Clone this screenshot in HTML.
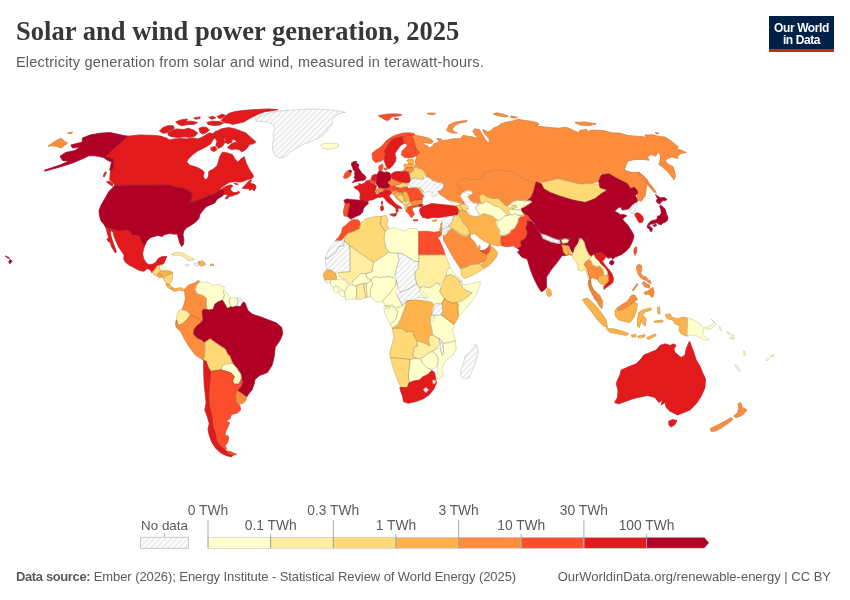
<!DOCTYPE html>
<html lang="en">
<head>
<meta charset="utf-8">
<title>Solar and wind power generation, 2025</title>
<style>
html,body{margin:0;padding:0;background:#fff;}
body{width:850px;height:600px;position:relative;overflow:hidden;font-family:"Liberation Sans",sans-serif;color:#5b5b5b;}
.title{position:absolute;left:16px;top:14px;margin:0;font-family:"Liberation Serif",serif;font-weight:bold;font-size:26.5px;line-height:34px;color:#373737;white-space:nowrap;letter-spacing:0.03px;transform-origin:0 0;}
.subtitle{position:absolute;left:16px;top:52.5px;margin:0;font-size:14.5px;letter-spacing:0.2px;line-height:18px;color:#5b5b5b;white-space:nowrap;transform-origin:0 0;}
.logo{position:absolute;left:769px;top:16px;width:65px;height:36px;background:#002147;border-bottom:0;color:#fff;font-weight:bold;font-size:12px;line-height:12px;text-align:center;letter-spacing:-0.4px;}
.logo span{display:block;padding-top:5.5px;}
.logo i{position:absolute;left:0;right:0;bottom:0;height:3px;background:#ce261e;}
.footer-l{position:absolute;left:16px;top:569px;font-size:13px;letter-spacing:-0.08px;line-height:16px;color:#5b5b5b;white-space:nowrap;transform-origin:0 0;}
.footer-l b{color:#5b5b5b;letter-spacing:-0.38px;}
.footer-r{position:absolute;right:19px;top:569px;font-size:13px;line-height:16px;color:#5b5b5b;white-space:nowrap;transform-origin:100% 0;}
svg{position:absolute;left:0;top:0;}
svg text{font-family:"Liberation Sans",sans-serif;}
</style>
</head>
<body>
<h1 class="title">Solar and wind power generation, 2025</h1>
<p class="subtitle">Electricity generation from solar and wind, measured in terawatt-hours.</p>
<div class="logo"><span>Our World<br>in Data</span><i></i></div>
<svg width="850" height="600" viewBox="0 0 850 600">
<defs>
<pattern id="hatch" patternUnits="userSpaceOnUse" width="4" height="4" patternTransform="rotate(45)">
<rect width="4" height="4" fill="#ffffff"/><line x1="2" y1="-1" x2="2" y2="5" stroke="#cccccc" stroke-width="0.75"/>
</pattern>
<pattern id="hatchL" patternUnits="userSpaceOnUse" width="4" height="4" patternTransform="rotate(45)">
<rect width="4" height="4" fill="#ffffff"/><line x1="2" y1="-1" x2="2" y2="5" stroke="#cccccc" stroke-width="0.75"/>
</pattern>
</defs>
<defs>
<path id="p0" d="M114.7,184.9L112.0,182.1L109.7,179.4L110.1,174.8L110.6,170.2L111.2,170.4L113.8,167.5L112.9,158.8L104.7,156.9L127.5,136.2L140.0,135.0L155.0,135.4L160.2,136.1L166.6,138.0L169.2,139.9L174.4,138.9L180.9,138.4L187.4,138.9L192.5,138.0L197.7,138.9L201.6,137.4L206.1,134.8L209.4,132.8L213.2,134.1L214.5,138.0L212.6,140.6L210.6,143.8L206.8,146.4L202.9,148.4L197.7,150.9L192.5,154.8L188.0,159.4L186.7,161.9L189.9,165.2L196.4,167.1L201.6,169.7L204.2,172.3L203.1,176.2L204.8,179.4L207.4,178.8L208.7,174.9L208.7,171.6L213.2,169.1L217.1,165.8L218.4,161.9L219.7,156.8L222.3,152.2L227.5,152.9L232.6,154.8L235.2,159.4L237.8,161.9L241.1,158.7L244.3,156.8L246.2,163.2L249.5,169.7L253.4,175.5L253.2,177.1L251.5,178.8L247.9,179.4L245.0,180.6L242.1,181.8L238.5,182.1L234.4,181.8L230.3,182.1L226.8,183.8L222.1,187.1L219.1,189.7L220.9,190.3L221.8,189.4L218.6,191.4L213.4,194.6L208.2,195.9L204.4,197.8L199.2,200.0L194.0,201.7L188.6,203.4L191.4,199.8L192.1,193.9L187.5,190.1L181.1,187.9L172.6,186.6L171.4,185.3L140.0,185.6L114.7,184.9Z"/>
<path id="p1" d="M82.5,138.0L90.0,135.0L100.0,133.2L110.0,132.5L118.8,134.5L127.5,136.2L104.7,156.9L112.9,158.8L113.8,167.5L111.2,170.4L109.7,170.0L110.6,166.6L111.5,162.0L106.5,159.7L104.2,157.9L103.8,157.5L95.0,155.8L88.8,155.8L82.5,158.8L72.5,163.0L60.0,167.0L44.5,171.2L45.0,170.0L60.0,165.0L68.8,161.2L62.5,160.5L60.0,156.2L65.5,152.5L75.0,150.5L80.0,147.0L72.5,148.0L70.8,145.0L77.5,143.2L82.0,142.5Z"/>
<path id="p2" d="M48.0,146.2L53.8,142.0L60.8,138.0L64.5,141.2L67.5,143.0L61.2,148.0L56.2,146.2L51.2,145.8Z"/>
<path id="p3" d="M67.5,133.0L72.5,132.0L71.2,133.8Z"/>
<path id="p4" d="M114.5,185.4L171.4,185.3L172.6,186.6L181.1,187.9L187.5,190.1L192.1,193.9L191.4,199.8L188.6,203.4L194.0,201.7L199.2,200.0L204.4,197.8L208.2,195.9L213.4,194.6L218.6,191.4L221.8,189.4L223.8,190.1L224.4,193.9L222.5,195.9L217.3,199.1L214.7,203.0L210.2,204.9L206.9,206.2L204.4,208.8L201.1,212.7L199.8,214.6L198.9,218.5L195.9,221.8L191.4,225.0L186.9,227.6L183.9,230.8L183.0,234.7L183.9,239.9L183.4,244.4L181.7,246.4L179.5,242.5L178.2,237.3L177.2,234.1L173.3,234.1L169.4,233.4L164.2,234.7L162.3,236.6L157.8,235.4L150.2,237.8L146.8,240.9L144.8,245.4L142.9,244.1L140.9,240.9L139.6,236.4L136.4,235.1L132.5,235.7L130.6,233.1L128.9,230.5L125.4,230.3L119.6,231.2L113.1,229.5L110.5,228.6L106.0,227.9L104.1,224.6L100.9,220.8L99.4,215.2L99.0,210.5L101.3,204.8L105.1,198.2L108.8,191.6L112.6,187.9Z"/>
<path id="p5" d="M210.5,264.1L213.7,264.1L213.7,265.6L210.5,265.6Z"/>
<path id="p6" d="M255.1,118.8L260.7,116.0L270.1,112.8L281.4,110.9L296.5,109.8L311.5,109.0L324.7,109.4L334.1,110.4L345.4,112.2L337.9,114.1L333.2,118.8L332.2,124.5L328.5,128.2L325.6,132.9L320.9,136.7L313.4,140.5L304.0,144.2L296.5,148.0L290.8,151.8L285.2,156.5L280.5,158.0L275.8,156.1L272.9,150.8L272.4,144.2L273.9,138.6L272.9,133.9L274.8,129.2L272.9,124.5L268.2,122.2L260.7,121.6L256.0,121.1Z"/>
<path id="p7" d="M320.9,144.8L324.7,143.3L330.4,143.7L336.0,142.9L338.8,144.8L337.9,147.1L333.2,148.6L327.5,149.3L322.8,148.6L321.3,146.7Z"/>
<path id="p8" d="M8.8,261.2L10.6,259.6L12.0,261.2L10.8,262.9L9.4,263.5Z"/>
<path id="p9" d="M5.3,256.1L6.5,256.4L9.4,257.9L9.6,258.6L7.1,257.6Z"/>
<path id="p10" d="M217.1,130.9L222.3,128.6L228.8,127.6L235.2,128.9L240.4,130.9L245.6,132.8L250.8,137.4L255.9,141.9L253.4,143.8L249.5,144.5L247.5,147.7L244.9,150.3L241.7,151.8L239.1,149.6L241.1,146.4L238.5,143.8L235.9,140.6L232.6,139.3L231.4,142.5L227.5,143.8L224.9,141.9L225.5,138.9L222.3,137.4L219.1,134.5Z"/>
<path id="p11" d="M227.5,147.7L231.4,143.8L235.9,141.9L240.4,145.1L241.1,147.7L239.1,149.6L235.2,149.0L231.4,149.6Z"/>
<path id="p12" d="M211.9,134.8L215.8,130.9L219.7,132.8L223.6,138.0L224.9,142.5L222.3,146.4L218.4,148.4L215.8,145.1L217.1,141.2L215.2,138.6L213.9,136.7Z"/>
<path id="p13" d="M210.6,147.7L215.2,146.4L217.1,149.6L213.9,151.6L211.3,150.3Z"/>
<path id="p14" d="M167.9,132.8L171.8,130.2L177.0,128.9L183.5,129.6L188.6,128.3L193.8,130.2L197.7,132.8L195.1,136.1L189.9,137.4L184.8,136.7L178.3,137.4L171.8,136.7L168.6,135.4Z"/>
<path id="p15" d="M159.5,130.9L162.8,127.6L167.9,125.7L173.1,125.7L174.4,128.3L170.5,130.2L166.6,132.8L162.8,133.2Z"/>
<path id="p16" d="M175.7,121.8L180.9,119.9L187.4,119.0L186.1,121.2L191.2,121.2L197.7,122.5L193.8,124.4L187.4,124.4L182.2,125.7L178.3,124.4Z"/>
<path id="p17" d="M193.8,117.9L200.3,116.9L199.6,118.6L195.1,119.2Z"/>
<path id="p18" d="M199.0,128.3L202.9,127.0L206.8,127.6L209.4,130.2L206.1,132.8L202.2,134.1L199.6,131.5Z"/>
<path id="p19" d="M206.8,122.5L211.9,121.2L219.7,121.6L223.6,123.1L219.7,125.1L213.2,125.4L208.1,124.4Z"/>
<path id="p20" d="M208.7,117.3L213.2,116.4L215.8,117.9L211.9,119.2Z"/>
<path id="p21" d="M221.0,120.5L224.9,116.6L228.8,113.4L235.2,111.5L245.6,110.2L255.9,109.5L268.9,108.9L277.9,109.7L271.5,110.8L265.0,111.7L258.5,114.1L253.4,116.6L248.2,119.2L244.3,121.8L239.1,123.1L232.6,124.4L228.8,123.1L225.5,123.1Z"/>
<path id="p22" d="M217.1,116.6L222.3,114.1L225.5,115.4L222.3,117.9L219.1,118.6Z"/>
<path id="p23" d="M103.3,176.2L104.7,172.5L106.5,172.1L105.1,175.3L104.2,177.1Z"/>
<path id="p24" d="M106.5,181.7L109.7,181.2L112.9,184.0L112.4,186.2L109.7,184.4Z"/>
<path id="p25" d="M219.1,189.7L220.3,190.3L222.6,188.2L225.6,186.5L229.1,185.2L232.1,185.0L232.6,185.9L231.2,187.4L230.6,189.4L231.8,191.5L233.8,192.6L236.2,192.6L237.9,191.8L238.8,190.9L239.4,193.2L237.4,194.1L234.4,195.0L232.1,195.9L229.4,196.5L227.6,198.2L225.9,199.1L225.3,198.2L226.8,196.5L228.8,195.0L226.8,195.0L224.4,194.1L224.1,192.4L223.8,190.0L220.9,190.3Z"/>
<path id="p26" d="M234.1,183.4L236.2,183.6L238.2,184.4L237.6,184.7L235.6,184.3Z"/>
<path id="p27" d="M242.4,188.2L243.8,186.5L246.2,184.1L248.5,181.5L250.9,179.7L251.5,180.6L250.3,182.6L251.8,183.8L254.1,184.1L255.6,185.6L255.9,187.6L255.0,189.4L254.1,190.9L253.2,190.3L252.6,188.8L250.9,189.7L249.4,190.6L249.7,189.1L247.9,188.5L245.0,188.7Z"/>
<path id="p28" d="M106.0,227.9L110.5,228.6L113.1,229.5L119.6,231.2L125.4,230.3L128.9,230.5L130.6,233.1L132.5,235.7L136.4,235.1L139.6,236.4L140.9,240.9L142.9,244.1L144.8,245.4L143.5,249.3L142.6,253.8L143.5,258.4L145.7,262.2L148.7,264.8L152.6,264.2L155.8,262.2L158.4,258.4L161.6,256.7L166.8,256.4L165.5,259.6L163.6,263.5L161.6,264.8L157.1,265.5L155.8,268.1L153.9,270.6L151.9,272.6L150.0,269.4L146.8,268.7L144.2,271.3L139.6,270.6L133.8,267.4L128.6,264.8L125.4,262.2L123.7,259.0L124.1,255.1L121.5,251.2L118.9,247.4L116.4,242.2L114.4,237.6L113.1,232.5L111.2,230.5L110.3,232.5L111.2,236.4L112.5,240.9L114.4,246.1L116.4,251.9L115.1,252.8L113.1,249.3L111.2,246.1L110.5,242.8L107.9,240.9L106.9,239.6L108.6,237.6L107.3,233.1Z"/>
<path id="p29" d="M152.6,271.9L153.9,270.6L155.8,268.1L157.1,265.7L159.7,265.7L159.4,269.4L161.0,270.6L158.4,273.2L157.1,275.8L153.9,274.8Z"/>
<path id="p30" d="M159.7,265.7L161.6,264.8L162.6,265.5L161.6,269.4L160.4,270.0L159.4,269.4Z"/>
<path id="p31" d="M157.1,275.8L158.4,273.9L161.6,275.2L162.3,277.1L159.1,277.8Z"/>
<path id="p32" d="M158.4,273.5L161.0,270.9L165.5,270.6L170.7,271.3L172.6,272.6L169.4,274.5L165.5,275.8L163.6,278.4L162.3,277.1L161.6,275.2Z"/>
<path id="p33" d="M171.4,254.5L175.2,252.5L179.8,252.5L184.3,253.8L188.2,256.4L192.1,258.4L194.7,259.6L191.4,260.6L187.5,260.3L186.9,258.4L183.0,256.4L179.1,255.1L174.6,255.4Z"/>
<path id="p34" d="M184.9,264.8L188.2,264.2L189.5,265.5L186.2,266.4Z"/>
<path id="p35" d="M194.0,263.5L197.2,262.9L198.5,261.6L199.2,264.8L198.5,265.5L194.7,265.7Z"/>
<path id="p36" d="M198.5,261.6L202.4,260.9L205.0,262.9L205.0,264.8L201.1,266.1L199.2,264.8Z"/>
<path id="p37" d="M184.8,292.6L184.3,289.3L188.6,285.1L194.2,283.2L198.6,280.4L199.9,281.7L196.7,285.1L195.2,289.8L197.1,293.6L203.6,295.5L206.5,298.3L206.5,305.8L207.4,309.6L203.6,309.2L202.3,311.5L203.1,319.9L201.2,322.8L199.9,319.0L195.2,317.1L190.5,314.9L186.7,311.1L182.0,309.6L183.9,304.9L185.4,299.2Z"/>
<path id="p38" d="M199.9,281.7L203.6,282.9L206.5,281.7L212.1,285.1L219.6,284.7L224.4,287.0L223.4,291.7L224.4,295.5L222.5,300.2L217.8,302.1L214.9,304.3L213.1,309.6L208.4,310.0L207.4,309.6L206.5,305.8L206.5,298.3L203.6,295.5L197.1,293.6L195.2,289.8L196.7,285.1Z"/>
<path id="p39" d="M224.4,290.8L227.2,292.6L230.0,297.4L229.1,302.1L230.9,306.8L227.2,308.6L225.3,304.9L222.5,300.2L224.4,295.5L223.4,291.7Z"/>
<path id="p40" d="M230.0,297.9L237.0,297.9L238.1,302.1L236.6,306.2L232.8,307.3L230.9,306.8L229.1,302.1Z"/>
<path id="p41" d="M237.0,297.9L241.3,298.7L243.2,302.1L240.4,306.8L236.6,306.2L238.1,302.1Z"/>
<path id="p42" d="M182.0,309.6L186.7,311.1L190.5,314.9L186.7,319.9L182.9,323.7L178.2,325.6L176.4,319.9L177.3,313.4L179.2,310.5Z"/>
<path id="p43" d="M176.4,319.9L178.2,325.6L182.9,323.7L186.7,319.9L190.5,314.9L195.2,317.1L199.9,319.0L201.2,322.8L197.1,325.6L194.2,329.4L193.7,334.1L197.1,337.8L201.8,339.7L204.6,342.5L205.0,349.1L204.6,354.8L203.6,360.4L200.8,358.5L195.2,354.8L189.5,347.2L184.8,339.7L181.1,332.2L176.4,327.5L175.4,323.7Z"/>
<path id="p44" d="M203.1,319.9L202.3,311.5L203.6,309.2L208.4,310.0L213.1,309.6L214.9,304.3L217.8,302.1L222.5,300.2L225.3,304.9L227.2,308.6L230.9,306.8L232.8,307.3L236.6,306.2L240.4,306.8L243.2,302.1L245.1,303.0L247.9,310.5L252.6,314.3L261.1,317.1L268.6,319.9L276.1,322.8L281.8,327.5L282.7,334.1L279.9,340.6L275.2,347.2L274.2,356.6L272.4,364.2L271.1,366.9L267.3,372.6L259.8,375.4L255.1,379.2L254.1,383.9L252.2,389.5L248.5,394.2L246.6,397.1L242.8,394.2L237.2,390.5L240.9,386.7L242.8,381.1L241.3,379.2L240.9,374.5L237.2,368.8L232.5,363.2L229.6,355.6L228.1,354.8L225.3,349.1L219.6,345.4L214.0,341.6L210.2,338.8L204.6,342.5L201.8,339.7L197.1,337.8L193.7,334.1L194.2,329.4L197.1,325.6L201.2,322.8Z"/>
<path id="p45" d="M204.6,342.5L210.2,338.8L214.0,341.6L219.6,345.4L225.3,349.1L228.1,354.8L229.6,355.6L232.5,363.2L229.6,363.6L224.9,364.1L222.1,366.0L221.2,369.8L214.6,370.7L210.8,371.6L208.0,366.9L206.1,361.3L203.7,360.4L204.6,354.8L205.0,349.1Z"/>
<path id="p46" d="M222.1,366.0L224.9,364.1L229.6,363.6L232.5,363.2L237.2,368.8L240.9,374.5L241.3,379.2L239.1,383.9L234.4,384.3L232.5,381.1L234.4,376.4L230.6,372.6L224.0,370.7L221.2,369.8Z"/>
<path id="p47" d="M210.8,371.6L214.6,370.7L221.2,369.8L224.0,370.7L230.6,372.6L234.4,376.4L232.5,381.1L234.4,384.3L239.1,383.9L241.3,379.2L242.8,381.1L240.9,386.7L237.2,390.5L235.7,395.2L236.2,401.8L240.0,405.5L240.6,410.2L237.2,413.1L231.5,414.4L230.0,418.7L225.9,421.2L229.6,422.5L227.8,427.2L225.9,430.9L224.9,434.7L228.7,436.6L227.8,442.2L224.9,446.0L226.8,448.8L224.9,449.8L220.2,446.0L216.5,441.3L215.5,434.7L212.7,425.3L211.8,415.9L209.3,406.5L208.6,397.1L209.3,387.6L209.9,378.2Z"/>
<path id="p48" d="M225.9,450.7L230.6,451.6L236.8,454.5L232.5,455.4L227.8,453.5Z"/>
<path id="p49" d="M203.7,360.4L206.1,361.3L208.0,366.9L210.8,371.6L209.9,378.2L209.3,387.6L208.6,397.1L209.3,406.5L211.8,415.9L212.7,425.3L215.5,434.7L216.5,441.3L220.2,446.0L224.9,449.8L225.9,450.7L227.8,453.5L232.5,455.4L231.5,456.9L225.9,455.4L220.2,452.6L215.5,447.9L211.8,442.2L209.3,435.6L208.0,429.1L209.3,423.4L207.1,415.9L204.8,410.2L206.1,402.7L205.2,393.3L204.2,383.9L203.7,372.6Z"/>
<path id="p50" d="M237.2,390.5L242.8,394.2L246.6,397.1L245.6,400.8L242.8,403.6L239.1,403.6L236.2,401.8L235.7,395.2Z"/>
<path id="p51" d="M163.6,278.4L165.5,275.8L169.4,274.5L172.6,272.6L172.6,277.1L171.4,282.3L169.4,284.2L166.2,283.6L164.9,281.0Z"/>
<path id="p52" d="M166.2,283.8L169.4,284.5L172.0,287.5L171.4,289.4L168.8,288.1L166.4,285.9Z"/>
<path id="p53" d="M171.4,289.4L172.3,287.5L175.2,288.8L178.5,288.1L181.7,287.7L184.3,290.1L183.0,291.6L180.4,290.1L177.2,290.7L174.6,291.6Z"/>
<path id="p54" d="M414.4,134.8L416.8,135.5L421.5,136.4L426.3,137.5L431.0,139.3L433.4,141.7L431.0,143.5L426.3,142.9L422.7,142.3L423.9,144.6L427.5,145.8L429.2,148.2L432.2,146.4L434.0,143.5L438.1,142.6L439.1,140.5L436.9,138.7L440.5,138.7L442.8,140.5L447.6,139.9L453.5,138.7L460.0,138.7L463.1,135.4L468.0,136.2L472.9,137.1L478.7,138.7L475.4,135.4L472.9,131.3L474.6,128.8L479.5,129.6L481.2,132.9L483.7,137.1L486.1,140.4L487.8,142.8L489.4,142.0L489.1,138.7L486.1,135.4L484.1,132.9L482.8,129.6L485.3,130.5L487.8,132.1L491.1,130.5L493.5,128.0L497.7,126.4L500.9,123.9L505.9,122.2L512.5,121.1L517.4,119.4L520.7,119.8L525.7,120.6L532.2,121.4L538.0,123.1L538.8,124.7L535.5,126.0L542.1,126.7L552.0,127.7L558.6,128.3L565.2,127.2L570.1,128.8L575.1,131.3L580.0,132.9L579.9,132.2L579.1,130.6L586.5,129.4L588.1,131.4L591.4,130.1L602.9,130.6L612.8,133.1L619.4,133.1L627.7,135.5L639.2,136.4L647.4,137.2L644.9,135.0L652.4,134.7L658.9,136.4L665.5,137.2L670.5,140.5L675.4,144.6L678.7,147.1L675.4,148.2L682.0,150.4L686.1,152.5L680.4,153.7L677.1,156.9L677.9,158.6L672.1,156.9L667.2,158.6L665.5,161.1L668.8,164.4L672.9,166.8L674.6,170.9L675.4,175.9L674.1,180.0L670.5,175.1L667.2,170.9L662.2,166.8L658.9,164.4L660.3,159.4L660.6,155.3L658.1,152.0L655.7,156.1L650.7,154.5L647.4,156.9L649.1,160.2L642.5,159.4L635.9,159.4L627.7,161.1L626.0,165.2L624.4,170.1L631.8,172.6L639.2,172.3L643.3,175.9L647.4,180.0L646.2,188.8L645.0,196.2L641.2,201.2L637.0,200.0L637.5,195.0L636.2,188.8L630.0,187.5L625.0,182.5L615.0,177.5L605.0,174.5L600.0,173.8L600.0,175.0L598.8,181.2L592.5,183.0L580.0,183.8L570.0,181.2L557.5,178.2L546.2,181.2L537.5,183.0L533.8,190.0L532.0,201.3L529.9,200.8L523.5,200.8L517.7,200.2L512.9,201.8L510.8,203.4L507.6,206.1L504.5,205.0L500.8,200.8L498.1,198.1L492.8,198.6L487.5,197.1L482.8,193.9L479.1,196.0L480.6,203.4L478.5,203.9L470.6,202.4L463.2,201.5L463.1,201.4L464.5,204.7L462.1,203.8L457.4,202.8L452.7,201.4L448.9,200.5L445.2,197.6L441.4,195.3L439.5,193.9L439.1,192.9L437.6,191.5L440.9,190.1L442.8,188.2L443.8,184.9L441.9,183.1L437.6,182.1L432.0,180.2L429.2,177.4L426.4,176.9L426.4,174.6L425.4,172.7L423.1,170.4L420.2,168.5L417.4,168.0L416.7,166.0L415.5,163.3L415.5,160.1L416.7,157.1L416.7,155.3L419.6,151.8L419.2,152.3L416.8,150.0L415.0,145.8L413.8,141.7L412.7,137.5L410.9,135.5Z"/>
<path id="p55" d="M575.0,122.5L585.0,122.0L596.2,123.8L590.0,125.5L580.0,125.0Z"/>
<path id="p56" d="M540.0,186.2L536.5,183.0L546.2,181.5L557.5,178.8L570.0,181.8L580.0,184.2L592.5,183.5L600.0,185.0L607.5,190.0L600.0,193.8L595.0,198.8L585.0,203.0L572.5,201.2L560.0,198.0L550.0,193.8L543.8,191.2Z"/>
<path id="p57" d="M638.8,172.5L643.8,176.2L648.8,182.5L653.8,188.8L656.2,192.5L653.8,192.0L648.8,186.2L643.8,180.0L640.0,175.5Z"/>
<path id="p58" d="M655.0,132.5L658.8,133.0L657.0,134.2Z"/>
<path id="p59" d="M471.2,195.0L463.1,192.0L462.6,190.1L458.8,188.2L457.4,184.0L461.2,179.3L465.9,178.4L471.5,179.8L481.2,178.8L483.8,172.5L496.2,169.5L512.5,172.0L525.0,180.0L537.5,183.0"/>
<path id="p60" d="M655.6,194.6L658.0,196.5L660.8,197.9L664.1,197.4L666.9,199.3L665.5,200.7L663.2,200.2L661.3,202.1L659.4,204.0L657.1,202.6L656.1,200.2L658.0,198.8L656.6,196.9Z"/>
<path id="p61" d="M660.4,204.9L662.7,206.8L665.1,209.2L666.5,213.9L667.9,217.6L667.4,220.5L665.5,221.9L663.2,222.8L661.3,224.7L658.9,224.2L657.1,222.8L655.2,223.3L652.8,223.8L650.5,224.2L648.6,225.6L647.2,226.6L648.1,224.2L650.0,221.9L652.4,220.5L655.2,220.0L657.1,219.1L657.5,216.2L659.9,215.8L661.3,212.9L660.8,209.2L659.9,206.8Z"/>
<path id="p62" d="M647.2,226.6L649.5,226.1L650.9,227.1L652.4,228.9L651.4,231.8L650.0,230.8L649.1,228.5L647.5,228.0Z"/>
<path id="p63" d="M652.8,225.2L656.1,224.2L656.6,225.6L654.2,226.6Z"/>
<path id="p64" d="M628.8,208.7L631.6,205.4L634.5,203.1L636.8,202.1L637.8,204.5L636.4,207.3L635.4,210.1L634.0,212.9L631.6,213.9L630.2,212.0Z"/>
<path id="p65" d="M634.7,214.1L636.8,212.8L639.6,213.4L642.5,216.2L643.4,219.5L642.5,221.9L639.6,222.8L638.2,221.4L636.8,218.6L635.4,216.2Z"/>
<path id="p66" d="M446.6,130.5L449.1,124.7L454.8,122.2L461.4,121.1L467.2,120.6L466.4,121.7L459.8,123.1L454.8,125.5L452.4,128.8L454.0,132.1L457.3,132.9L451.5,132.9Z"/>
<path id="p67" d="M493.5,114.0L496.8,112.8L502.6,114.0L508.4,116.1L505.9,116.8L500.1,116.1L496.0,115.2Z"/>
<path id="p68" d="M510.5,116.1L514.1,116.5L517.4,117.3L514.1,118.1L510.8,117.3Z"/>
<path id="p69" d="M343.5,177.8L344.5,174.3L346.8,171.3L349.2,170.4L351.0,172.5L350.6,175.4L348.0,177.5L345.7,178.4Z"/>
<path id="p70" d="M349.0,170.4L351.0,170.1L351.6,171.9L350.1,172.5Z"/>
<path id="p71" d="M351.6,163.0L353.9,161.6L356.9,161.6L356.3,163.6L358.7,164.2L358.1,167.8L359.9,170.1L361.6,173.1L364.6,175.4L366.0,177.5L365.2,179.6L362.8,180.5L358.7,181.0L355.1,181.7L352.2,182.5L354.5,180.2L355.7,178.4L353.9,177.8L355.1,175.4L354.5,173.1L355.1,171.3L353.3,170.1L352.8,167.8L351.6,165.4Z"/>
<path id="p72" d="M353.9,187.3L356.3,186.1L359.3,185.5L358.7,183.7L361.6,184.3L364.6,183.1L366.4,180.8L368.7,180.5L370.5,182.5L374.1,184.3L376.4,185.5L375.8,189.1L374.6,191.4L375.8,193.2L377.0,195.0L377.6,197.3L375.2,198.5L372.9,199.7L369.3,200.3L367.5,202.1L364.0,201.5L360.4,200.3L359.9,197.3L360.4,193.8L358.7,190.8L356.3,189.1Z"/>
<path id="p73" d="M381.4,202.1L382.3,200.9L382.7,203.8L381.7,204.7Z"/>
<path id="p74" d="M343.9,200.3L346.8,199.1L352.8,199.7L360.4,200.3L364.0,201.5L367.5,202.1L368.7,203.3L365.8,205.6L363.4,208.6L362.5,212.1L360.4,214.5L356.3,216.3L352.8,218.0L351.0,219.2L349.0,217.5L347.4,216.3L348.0,211.5L349.0,206.8L349.8,203.8L345.1,203.3Z"/>
<path id="p75" d="M345.1,203.3L349.8,203.8L349.0,206.8L348.0,211.5L347.4,216.3L344.2,216.0L343.3,211.5L344.5,206.8Z"/>
<path id="p76" d="M368.7,180.5L370.5,179.6L373.5,180.2L375.2,182.0L375.0,183.7L374.1,184.3L370.5,182.5Z"/>
<path id="p77" d="M371.1,179.3L372.3,175.4L375.8,174.3L376.4,176.6L375.8,179.6L375.2,181.7L373.5,180.2Z"/>
<path id="p78" d="M376.1,175.4L377.6,173.7L379.4,170.8L381.7,171.3L384.0,172.5L386.9,171.9L389.9,173.1L391.0,176.6L390.8,180.1L388.1,182.4L389.9,185.3L389.3,187.7L386.4,188.3L382.9,188.3L378.8,187.7L377.6,185.3L375.9,183.6L376.4,180.1L376.8,177.2Z"/>
<path id="p79" d="M379.1,170.2L378.8,166.7L380.5,164.9L382.6,164.3L383.1,166.7L382.3,169.6L381.1,170.8Z"/>
<path id="p80" d="M384.0,168.4L386.4,167.8L386.9,169.6L385.0,170.2Z"/>
<path id="p81" d="M382.3,188.8L385.9,188.5L388.8,187.9L390.0,185.7L394.2,186.1L397.1,187.3L396.5,189.6L394.2,191.2L390.6,191.4L387.1,190.2L384.1,190.2Z"/>
<path id="p82" d="M375.8,190.2L378.2,188.5L382.3,188.8L384.1,190.2L382.9,192.0L380.0,192.8L377.0,193.2L375.8,192.0Z"/>
<path id="p83" d="M397.1,187.6L399.5,187.9L403.6,187.3L407.2,186.9L408.4,188.5L406.0,190.8L402.5,192.6L398.9,192.8L396.8,191.4L396.5,189.6Z"/>
<path id="p84" d="M391.2,191.7L394.2,191.2L396.5,191.4L395.9,193.2L393.0,194.0L391.6,193.2Z"/>
<path id="p85" d="M393.0,194.0L395.9,193.2L396.8,191.7L399.5,192.8L402.5,192.8L403.0,195.0L399.5,194.7L396.5,195.6L397.7,197.9L400.7,200.9L403.0,203.3L401.3,202.7L397.7,199.7L395.4,197.3L393.9,195.6Z"/>
<path id="p86" d="M396.5,195.6L399.5,194.7L403.0,195.0L403.9,197.3L404.2,200.3L402.5,202.1L400.7,200.9L397.7,197.9Z"/>
<path id="p87" d="M402.5,192.8L406.0,191.2L407.8,193.2L409.0,195.6L410.1,198.5L410.7,201.5L409.0,203.8L406.6,203.3L405.4,200.9L404.2,200.3L403.9,197.3L403.0,195.0Z"/>
<path id="p88" d="M403.0,202.1L404.8,200.7L406.0,202.7L404.8,204.4L403.6,203.8Z"/>
<path id="p89" d="M406.0,202.1L407.8,201.1L409.0,203.3L407.2,204.4Z"/>
<path id="p90" d="M404.2,204.7L406.0,204.2L406.6,206.8L407.2,209.2L405.8,210.4L404.6,208.0Z"/>
<path id="p91" d="M407.2,204.4L409.0,203.8L411.3,204.4L410.7,206.2L407.8,207.0L406.7,206.6Z"/>
<path id="p92" d="M405.8,210.6L407.4,209.2L407.8,207.3L410.7,206.3L413.7,205.6L417.8,205.0L418.4,206.6L415.5,207.0L413.1,207.4L411.9,209.2L413.1,211.5L414.5,214.5L412.5,216.3L411.7,217.7L410.1,216.3L409.0,213.9L407.2,212.5Z"/>
<path id="p93" d="M413.1,219.8L417.8,219.6L417.8,220.8L413.7,221.0Z"/>
<path id="p94" d="M410.7,201.5L413.1,200.3L417.8,199.7L422.0,199.5L422.6,202.1L421.2,203.8L418.4,205.0L413.7,205.6L411.3,204.4Z"/>
<path id="p95" d="M408.4,188.5L411.9,187.9L416.7,187.6L419.6,190.2L421.4,193.8L423.5,195.0L423.2,196.7L422.0,199.5L417.8,199.7L413.1,200.3L410.7,201.5L409.0,195.6L407.8,193.2L406.0,191.2Z"/>
<path id="p96" d="M377.6,197.3L377.0,195.0L380.0,192.8L382.9,192.0L384.1,190.5L387.1,190.5L390.6,191.4L391.6,193.2L390.0,194.4L388.8,196.2L390.6,197.9L393.0,200.9L395.4,203.8L398.3,205.6L401.3,207.4L401.9,208.6L399.5,208.2L397.7,208.0L398.3,210.4L397.1,212.7L395.9,211.5L396.3,209.2L394.2,206.8L391.8,205.0L388.8,203.3L386.5,200.9L384.7,198.5L382.3,196.7L380.0,197.3Z"/>
<path id="p97" d="M390.0,213.9L393.0,214.1L396.5,213.3L395.9,215.7L393.6,216.3L390.6,215.1Z"/>
<path id="p98" d="M380.6,206.6L382.9,205.6L383.5,209.2L382.3,210.9L380.9,210.4Z"/>
<path id="p99" d="M418.4,205.0L421.2,204.0L423.2,204.7L422.3,206.6L419.6,206.8Z"/>
<path id="p100" d="M378.3,115.7L383.7,114.7L389.6,113.9L395.5,113.9L401.7,114.5L400.8,115.7L395.5,116.2L392.0,116.8L389.6,119.2L387.8,120.6L384.9,119.8L381.3,117.4Z"/>
<path id="p101" d="M394.3,118.3L398.5,118.6L397.9,119.8L394.9,119.4Z"/>
<path id="p102" d="M426.9,113.5L431.0,113.0L435.7,113.3L433.4,114.5L429.8,114.5Z"/>
<path id="p103" d="M372.1,153.5L375.4,150.6L380.1,147.6L383.7,144.1L386.6,140.5L390.8,137.5L395.5,135.2L402.6,133.2L408.5,132.8L413.8,133.4L414.4,134.8L410.9,135.5L407.3,135.2L406.2,136.4L402.6,137.0L399.1,137.5L394.3,138.7L391.4,140.5L389.0,144.1L386.6,147.6L384.9,150.6L385.4,155.3L384.3,158.8L381.9,160.6L378.9,161.8L375.4,162.4L373.0,160.0L372.4,156.5Z"/>
<path id="p104" d="M385.4,155.3L384.9,150.6L386.6,147.6L389.0,144.1L391.4,140.5L394.3,138.7L399.1,137.5L402.6,137.0L403.6,140.5L404.0,143.5L400.8,145.2L398.5,148.2L396.4,151.2L394.7,153.8L396.1,157.9L395.3,161.6L392.5,165.7L389.3,168.7L387.5,168.3L386.0,165.4L384.6,161.8L384.3,158.8Z"/>
<path id="p105" d="M402.6,137.0L406.2,136.4L407.3,135.2L410.9,135.5L412.7,137.5L413.8,141.7L415.0,145.8L416.8,150.0L419.2,152.3L416.8,155.3L413.3,157.1L408.5,158.0L403.8,157.1L401.4,154.7L402.0,151.2L405.0,148.2L407.3,145.2L405.6,143.5L404.0,143.5L403.6,140.5Z"/>
<path id="p106" d="M408.9,184.0L410.4,179.8L412.2,178.8L416.9,179.3L422.6,179.3L426.4,176.9L429.2,177.4L432.0,180.2L437.6,182.1L441.9,183.1L443.8,184.9L442.8,188.2L440.9,190.1L437.6,191.5L439.1,192.9L439.5,193.9L436.7,194.4L434.8,196.2L432.5,196.2L431.5,194.4L432.9,192.9L431.1,192.0L427.3,191.5L424.9,192.5L422.6,194.4L423.1,192.0L421.6,189.2L419.3,187.3L416.9,187.8L413.2,187.3L410.4,186.8L409.4,185.4Z"/>
<path id="p107" d="M419.3,187.3L421.6,189.2L423.1,192.0L422.1,192.9L420.7,191.1L418.4,188.2Z"/>
<path id="p108" d="M406.7,160.4L409.2,159.3L413.3,159.3L414.3,162.1L412.5,164.2L409.6,164.2L408.3,162.5Z"/>
<path id="p109" d="M403.8,165.0L405.0,163.8L408.3,164.6L408.8,162.9L409.6,164.2L412.5,164.2L415.0,164.6L416.0,167.1L413.3,167.9L410.0,167.1L406.7,167.5L404.2,167.1Z"/>
<path id="p110" d="M404.2,168.8L406.7,167.7L410.0,167.2L413.3,168.1L413.8,170.4L411.7,172.5L408.8,172.5L406.2,171.7L404.6,170.4Z"/>
<path id="p111" d="M402.5,170.4L404.6,170.4L406.0,171.7L403.3,171.8Z"/>
<path id="p112" d="M409.2,175.0L411.7,172.5L413.8,170.4L413.3,168.1L416.0,167.1L418.3,167.9L421.7,168.8L424.2,171.7L426.2,174.2L424.2,175.4L423.3,178.8L419.2,178.3L415.0,177.9L411.2,178.3L409.6,176.7Z"/>
<path id="p113" d="M391.2,174.2L394.2,172.1L398.3,171.5L402.5,171.8L406.0,171.8L408.8,172.7L409.2,175.0L409.6,176.7L410.4,180.0L408.8,182.5L405.8,183.3L402.5,182.5L399.2,182.1L396.2,180.8L392.5,179.2L391.2,176.7Z"/>
<path id="p114" d="M397.9,185.0L400.0,183.8L402.9,182.9L406.7,183.5L408.3,183.8L407.5,186.2L404.2,186.7L400.8,187.9L398.8,187.5Z"/>
<path id="p115" d="M387.9,182.5L390.4,180.0L392.5,179.3L396.2,180.8L399.2,182.1L402.1,182.7L400.0,183.8L397.9,185.0L395.0,185.4L391.7,185.0L389.6,184.2Z"/>
<path id="p116" d="M521.2,208.8L525.0,202.5L531.2,197.5L533.8,191.2L536.2,182.0L541.2,183.8L543.8,188.8L550.0,192.5L560.0,196.2L572.5,200.0L585.0,202.5L595.0,198.8L601.2,193.8L607.5,190.0L600.0,187.5L598.8,181.2L601.2,175.0L608.8,173.8L617.5,178.8L627.5,183.8L630.2,188.5L634.5,187.5L636.8,189.9L637.8,193.2L635.4,195.5L636.8,198.8L637.3,201.6L634.5,203.1L631.6,205.4L628.8,208.7L625.5,209.6L622.2,210.1L621.3,207.3L618.9,207.3L615.6,210.1L614.7,211.5L618.0,212.9L620.4,214.8L623.2,214.4L626.9,215.8L624.1,217.6L622.7,219.5L625.1,222.4L627.9,225.2L630.2,228.9L632.6,232.7L634.0,236.0L633.5,238.2L631.8,242.9L629.4,247.6L625.9,251.2L621.2,254.7L615.3,257.1L612.4,259.4L611.8,257.3L608.2,258.2L605.9,256.5L603.5,254.1L600.6,252.4L597.6,252.9L594.1,254.1L593.5,254.7L591.2,256.5L589.4,255.3L587.1,251.2L585.3,246.5L584.1,241.8L581.8,238.8L576.2,237.0L570.0,238.8L563.8,238.0L557.5,240.0L547.5,236.2L540.0,232.5L536.2,228.8L535.0,223.8L531.2,220.0L526.2,216.2L522.5,212.5Z"/>
<path id="p117" d="M582.5,299.5L587.5,298.0L595.0,305.0L601.2,312.5L606.2,320.0L607.5,327.5L603.8,326.2L597.5,320.0L591.2,311.2L585.0,303.8Z"/>
<path id="p118" d="M606.2,328.8L613.8,328.8L622.5,331.2L628.8,333.8L626.2,335.5L617.5,333.8L610.0,332.5Z"/>
<path id="p119" d="M631.2,335.0L636.2,334.5L635.5,337.0L632.0,337.0Z"/>
<path id="p120" d="M637.5,336.2L645.0,334.5L644.5,337.0L638.8,338.0Z"/>
<path id="p121" d="M646.2,338.0L655.0,333.8L656.2,335.5L648.8,339.5Z"/>
<path id="p122" d="M616.2,308.8L621.2,305.0L627.5,301.2L631.2,295.5L634.5,295.0L637.5,299.5L633.8,302.0L630.0,305.0L623.8,308.8L618.8,310.5Z"/>
<path id="p123" d="M615.0,310.0L618.8,310.5L623.8,308.8L630.0,305.0L633.8,302.0L637.5,303.8L636.2,311.2L633.8,317.5L630.0,322.5L623.8,321.2L618.8,320.0L615.5,316.2Z"/>
<path id="p124" d="M638.8,312.5L642.5,310.0L651.2,308.0L651.2,310.0L645.0,312.0L642.5,315.0L646.2,318.8L645.0,326.2L642.5,323.8L641.2,320.0L639.5,327.5L637.5,326.2L637.5,318.8Z"/>
<path id="p125" d="M657.5,307.5L659.5,307.0L660.0,313.8L658.0,313.8Z"/>
<path id="p126" d="M653.8,321.2L662.5,320.0L663.0,322.0L655.0,322.5Z"/>
<path id="p127" d="M665.0,315.0L670.0,313.8L672.5,317.5L677.5,318.8L682.5,317.0L687.5,318.0L687.0,336.2L681.2,333.8L678.8,330.0L680.0,326.2L675.0,323.8L672.5,320.0L667.5,318.8Z"/>
<path id="p128" d="M687.5,318.0L693.8,320.0L700.0,323.8L703.8,328.8L702.5,333.8L706.2,338.0L708.8,340.0L703.8,340.0L697.5,336.2L692.5,335.0L687.0,336.2Z"/>
<path id="p129" d="M617.5,380.0L620.0,375.0L621.2,370.0L630.0,366.2L636.2,363.8L641.2,358.8L643.8,355.0L650.0,352.5L656.2,350.0L660.0,345.5L665.0,343.8L670.0,345.5L673.8,343.8L676.2,345.5L673.8,348.8L675.0,352.5L681.2,357.5L685.0,355.0L686.2,348.8L689.5,341.2L691.2,345.5L693.8,352.5L696.2,360.0L700.0,366.2L702.5,372.5L705.5,378.8L705.0,387.5L701.2,396.2L696.2,403.8L690.0,410.0L683.8,412.5L677.5,415.0L670.0,411.2L666.2,407.5L665.0,402.5L661.2,405.0L662.5,400.0L658.8,402.5L655.0,397.5L647.5,395.5L640.0,397.0L632.5,398.8L626.2,401.2L618.8,403.8L614.5,402.5L617.5,397.5L618.0,390.0L616.2,383.8Z"/>
<path id="p130" d="M668.8,421.2L672.5,419.5L677.0,420.5L675.0,424.5L671.2,427.0L668.8,425.0Z"/>
<path id="p131" d="M738.0,403.8L740.5,402.5L742.5,407.5L747.0,410.0L743.8,413.8L740.0,416.2L736.2,417.5L733.8,416.2L737.5,412.5L738.8,407.5Z"/>
<path id="p132" d="M710.0,428.8L717.5,425.0L725.0,421.2L731.2,417.5L732.5,420.0L727.5,423.8L720.0,428.8L715.0,431.2L711.2,431.2Z"/>
<path id="p133" d="M588.8,280.0L591.2,285.0L593.8,290.0L599.5,295.0L602.5,301.2L602.0,308.8L598.8,305.0L595.0,297.5L592.0,292.5L590.0,287.5L588.0,283.8Z"/>
<path id="p134" d="M579.4,239.4L581.8,238.8L584.1,241.8L585.3,246.5L587.1,251.2L589.4,255.3L591.2,256.5L588.8,259.4L585.3,262.4L584.7,265.3L587.1,268.8L588.8,274.7L590.0,279.4L590.8,282.9L589.4,282.9L588.2,278.2L586.5,272.9L585.3,268.8L581.8,271.2L578.2,270.0L577.6,265.3L575.9,261.8L572.9,258.2L572.4,253.5L574.1,250.0L575.9,245.3L577.6,241.8Z"/>
<path id="p135" d="M585.3,262.4L588.8,260.0L591.2,261.2L592.9,265.3L596.5,266.5L600.0,265.9L602.9,269.4L604.1,274.1L601.2,275.3L598.2,276.5L597.6,279.4L595.3,278.8L592.4,277.6L590.6,279.4L590.8,282.9L591.2,287.6L594.1,292.4L597.6,297.1L600.6,300.0L595.3,300.0L593.5,296.5L590.6,291.2L588.8,286.5L589.4,282.9L590.0,279.4L588.8,274.7L587.1,268.8L584.7,265.3Z"/>
<path id="p136" d="M591.2,256.5L593.5,254.7L595.9,258.2L599.4,261.2L601.2,264.1L605.3,267.6L608.0,271.8L608.2,275.3L605.3,275.9L604.1,274.1L602.9,269.4L600.0,265.9L596.5,266.5L592.9,265.3L591.2,261.2L590.0,258.8Z"/>
<path id="p137" d="M594.1,254.1L597.6,252.9L600.6,252.4L603.5,254.1L605.9,256.5L604.1,259.4L602.4,261.2L604.7,264.7L608.2,268.8L611.8,273.5L613.5,278.2L612.9,282.4L609.4,285.3L605.9,287.6L604.1,289.4L603.8,286.5L606.5,283.5L608.8,280.6L608.2,275.3L608.0,271.8L605.3,267.6L601.2,264.1L599.4,261.2L595.9,258.2Z"/>
<path id="p138" d="M597.6,279.4L598.2,276.5L601.2,275.3L605.3,275.9L608.2,275.3L608.8,280.6L606.5,283.5L603.5,284.7L600.6,283.5L598.6,281.8Z"/>
<path id="p139" d="M610.0,261.2L612.4,260.4L614.1,261.8L613.5,264.1L611.2,265.1L609.6,263.5Z"/>
<path id="p140" d="M633.9,250.0L635.3,247.1L636.7,247.1L636.7,251.2L635.3,255.3L634.1,252.9Z"/>
<path id="p141" d="M637.1,265.3L639.4,264.4L641.2,265.3L641.8,269.4L640.6,272.9L642.4,275.9L646.5,277.1L647.6,279.4L650.6,281.2L651.2,283.5L648.8,282.9L646.5,280.6L643.5,279.4L641.2,278.2L638.8,275.3L637.1,271.2L636.5,267.6Z"/>
<path id="p142" d="M642.4,282.4L644.7,281.8L647.1,284.7L646.5,287.6L644.1,286.5L642.9,284.1Z"/>
<path id="p143" d="M647.6,284.1L650.0,285.3L649.4,288.2L647.6,287.6Z"/>
<path id="p144" d="M632.4,290.0L634.7,287.1L637.1,283.5L637.9,284.4L635.3,288.2L632.9,290.9Z"/>
<path id="p145" d="M644.1,292.4L647.6,291.2L650.6,288.8L652.9,287.6L654.1,291.2L653.5,295.9L651.8,297.6L650.0,294.7L647.6,294.1L645.3,294.7Z"/>
<path id="p146" d="M526.3,220.4L531.5,221.3L535.0,224.8L536.8,230.0L541.2,234.4L542.9,237.9L550.8,241.4L558.7,243.2L560.4,239.7L564.8,238.8L569.2,239.7L573.6,237.0L577.9,236.7L578.8,239.7L577.1,244.0L574.4,247.5L572.7,252.8L570.9,250.2L569.2,245.8L565.7,244.9L567.4,249.3L569.2,254.5L565.7,255.4L562.2,255.4L557.8,261.5L550.8,270.3L546.4,277.3L546.4,287.8L543.8,290.4L541.2,291.7L537.7,286.1L534.2,279.1L530.6,270.3L528.0,261.5L527.1,258.9L521.9,257.2L517.5,251.9L520.1,250.2L517.5,248.4L521.0,245.8L520.1,241.4L525.4,237.9L527.1,232.7L525.4,227.4L527.1,223.9Z"/>
<path id="p147" d="M541.2,234.4L545.5,234.9L552.5,237.9L559.5,240.5L560.4,243.2L558.7,243.7L550.8,241.9L542.9,238.4Z"/>
<path id="p148" d="M561.3,240.2L565.7,238.8L568.7,240.2L567.4,242.6L562.7,243.2Z"/>
<path id="p149" d="M561.6,244.9L565.7,245.4L568.8,246.1L569.7,251.0L572.2,254.5L570.9,255.9L569.2,253.7L566.5,255.4L563.4,251.9L562.7,247.5Z"/>
<path id="p150" d="M546.4,290.4L548.2,287.8L550.8,290.4L551.7,294.8L549.0,296.9L546.9,294.8Z"/>
<path id="p151" d="M704.7,327.6L707.6,327.1L711.8,324.7L714.1,322.4L712.4,320.0L711.2,319.4L715.3,322.9L715.3,324.7L712.4,327.6L708.8,329.4L705.9,328.8Z"/>
<path id="p152" d="M718.8,326.5L720.0,326.5L721.8,330.0L720.6,330.6Z"/>
<path id="p153" d="M727.1,331.8L730.6,333.5L730.0,334.7L727.1,332.9Z"/>
<path id="p154" d="M731.8,334.7L733.5,335.3L734.5,338.8L733.3,339.4Z"/>
<path id="p155" d="M730.0,337.3L732.4,338.0L731.8,339.2L729.8,338.5Z"/>
<path id="p156" d="M743.5,351.2L744.7,351.2L745.3,355.3L744.1,355.6Z"/>
<path id="p157" d="M766.2,359.2L767.6,358.0L769.4,358.8L768.2,360.6L766.5,360.6Z"/>
<path id="p158" d="M770.2,356.1L773.8,354.7L773.8,355.6L770.9,357.1Z"/>
<path id="p159" d="M734.5,365.3L735.9,364.7L740.6,370.6L739.4,371.4Z"/>
<path id="p160" d="M419.6,209.2L422.6,206.8L426.1,205.6L430.9,203.8L431.3,203.5L440.7,204.5L450.1,205.4L456.7,206.4L459.2,210.1L457.6,214.8L452.0,215.4L444.5,216.7L438.8,217.6L433.2,217.3L427.5,218.6L421.9,216.7L423.8,217.5L421.4,215.7L420.0,212.7Z"/>
<path id="p161" d="M458.8,210.1L462.4,210.7L466.1,211.1L469.9,215.8L478.4,216.7L484.0,213.9L492.5,216.7L497.2,219.9L497.6,227.1L500.6,230.8L500.6,234.6L502.8,239.3L503.8,244.9L497.2,245.9L490.6,244.0L485.9,242.1L480.2,238.4L474.6,233.6L469.9,234.6L468.9,228.9L464.2,223.3L459.5,217.1Z"/>
<path id="p162" d="M443.5,234.6L446.4,231.8L450.1,228.0L453.9,228.9L460.5,233.6L466.1,235.5L469.9,237.4L474.6,242.1L477.4,247.8L480.2,250.6L486.8,254.4L484.9,260.9L478.4,263.8L470.8,264.7L465.2,267.5L460.5,268.5L456.7,262.8L452.0,255.3L447.3,246.8L443.5,240.2Z"/>
<path id="p163" d="M478.4,245.9L479.9,245.5L480.2,248.7L478.7,249.3Z"/>
<path id="p164" d="M480.2,250.6L484.9,250.0L488.7,246.8L489.6,244.0L490.6,248.7L488.7,253.4L486.8,254.4Z"/>
<path id="p165" d="M489.6,244.9L494.4,248.7L497.6,252.5L496.2,257.2L492.5,261.9L488.7,265.6L484.0,268.5L481.2,264.7L484.9,260.9L486.8,254.4L488.7,253.4L490.6,248.7Z"/>
<path id="p166" d="M460.5,268.5L465.2,267.5L470.8,264.7L478.4,263.8L481.2,264.7L484.0,268.5L478.4,272.2L470.8,276.0L464.2,278.8L461.4,275.1Z"/>
<path id="p167" d="M432.2,220.5L436.9,219.5L436.0,221.4L433.2,221.8Z"/>
<path id="p168" d="M449.2,200.4L452.5,201.2L457.5,202.5L461.7,204.2L460.8,205.4L457.5,205.0L455.0,205.4L451.7,203.3Z"/>
<path id="p169" d="M456.2,205.8L459.2,205.4L461.2,207.5L462.9,210.4L460.8,210.8L458.8,209.6L457.5,207.1Z"/>
<path id="p170" d="M459.6,205.0L461.7,204.2L465.0,203.8L467.5,205.8L469.2,207.5L466.7,208.8L466.7,211.2L464.6,210.8L462.9,210.4L461.2,207.5Z"/>
<path id="p171" d="M448.8,225.8L452.5,220.8L453.8,216.2L458.8,215.4L461.7,218.3L462.9,222.5L467.5,227.5L469.2,231.7L469.6,235.0L467.1,236.7L462.1,235.8L456.7,231.7L451.7,228.8Z"/>
<path id="p172" d="M441.2,220.8L442.5,218.3L446.7,217.1L453.8,216.2L452.5,220.8L448.8,225.8L445.0,228.3L442.5,229.2L441.7,225.0Z"/>
<path id="p173" d="M442.5,229.2L445.0,228.3L448.8,225.8L451.7,228.8L448.3,230.8L446.2,234.2L443.3,235.8L441.2,235.0Z"/>
<path id="p174" d="M439.8,228.3L441.2,227.1L441.7,230.0L441.2,235.0L440.4,234.2L440.0,230.8Z"/>
<path id="p175" d="M440.7,223.8L442.1,222.9L441.8,225.4L440.8,227.1Z"/>
<path id="p176" d="M467.5,235.0L470.0,234.6L470.8,237.1L468.8,237.5Z"/>
<path id="p177" d="M501.4,235.6L505.6,234.6L509.8,232.3L510.9,229.7L514.7,227.6L516.3,224.9L517.9,221.8L518.4,218.1L520.5,216.0L524.5,214.3L528.0,215.7L530.6,220.4L526.3,221.3L527.1,223.9L525.4,227.4L527.1,232.7L525.4,237.9L520.1,241.4L521.0,245.8L517.5,248.4L513.1,245.8L507.0,246.7L501.8,245.8L500.9,242.3Z"/>
<path id="p178" d="M479.1,196.0L482.8,194.1L487.5,197.1L492.8,198.6L498.1,198.1L500.8,200.8L504.5,205.0L507.6,206.4L509.2,208.2L511.9,205.7L515.1,205.3L517.2,206.6L514.5,208.2L511.9,208.7L509.8,209.8L508.2,210.8L509.8,214.5L508.2,215.3L505.5,212.9L502.4,209.8L499.2,207.1L494.9,206.1L491.8,204.5L488.6,202.4L485.4,201.5L482.8,203.9L480.6,203.4Z"/>
<path id="p179" d="M475.9,206.6L478.5,205.5L476.9,203.4L480.6,203.4L482.8,203.9L485.4,201.5L488.6,202.4L491.8,204.5L494.9,206.1L499.2,207.1L502.4,209.8L505.5,212.9L508.2,215.3L504.5,216.1L501.8,218.8L499.2,220.4L496.5,219.8L493.9,216.6L489.6,214.5L484.9,213.5L481.2,214.0L479.1,215.6L478.5,212.4L475.9,209.8Z"/>
<path id="p180" d="M510.8,203.4L512.9,201.8L517.7,200.2L523.5,200.8L529.9,200.8L532.0,201.8L527.8,204.5L524.6,206.6L521.4,208.2L519.3,209.8L515.1,209.8L511.9,209.2L514.5,208.2L517.2,206.6L515.1,205.3L511.9,205.7Z"/>
<path id="p181" d="M508.2,210.8L509.8,209.8L511.9,209.2L515.1,209.8L519.3,209.8L521.9,211.7L524.4,214.5L520.4,215.6L517.2,215.1L515.1,213.5L512.4,215.1L509.8,214.5Z"/>
<path id="p182" d="M496.5,219.8L499.2,220.4L501.8,218.8L504.5,216.1L508.2,215.3L509.8,214.5L512.4,215.1L515.1,213.5L517.2,215.1L520.4,215.6L523.5,214.5L524.1,215.6L520.4,216.6L518.2,218.8L517.7,222.5L516.1,225.6L514.5,228.3L510.8,230.4L509.8,233.1L505.5,235.2L501.3,235.7L499.2,233.6L499.7,230.4L497.1,226.7L496.0,223.0Z"/>
<path id="p183" d="M349.2,221.9L352.9,219.7L358.6,220.1L360.5,223.8L359.5,228.5L353.9,231.4L348.2,233.2L344.5,237.0L340.7,240.8L335.1,240.8L338.8,237.0L341.6,232.3L342.6,227.6L346.4,224.8Z"/>
<path id="p184" d="M335.1,240.8L340.7,240.8L344.5,240.8L343.5,245.5L338.8,246.4L336.0,252.1L331.3,255.8L327.5,258.6L325.3,257.7L327.5,252.1L331.3,245.5Z"/>
<path id="p185" d="M325.3,257.7L327.5,258.6L331.3,255.8L336.0,252.1L338.8,246.4L343.5,245.5L344.5,240.8L349.2,244.5L350.1,252.1L350.1,271.8L338.8,272.4L336.0,273.7L331.3,269.9L326.6,269.0L325.6,263.4Z"/>
<path id="p186" d="M360.5,223.8L365.2,219.1L374.6,216.7L381.2,216.3L380.2,223.8L384.9,231.4L384.0,239.8L385.9,247.4L388.7,252.1L382.1,256.8L373.6,262.4L367.1,257.7L357.6,251.1L349.2,245.5L344.5,240.8L344.5,237.0L348.2,233.2L353.9,231.4L359.5,228.5Z"/>
<path id="p187" d="M381.2,216.3L385.9,215.4L387.8,220.1L386.8,224.8L388.7,228.5L384.9,231.4L380.2,223.8Z"/>
<path id="p188" d="M384.9,231.4L388.7,228.5L395.3,227.6L404.7,231.4L408.5,228.5L416.0,228.5L418.8,231.4L418.8,261.5L415.1,261.5L402.8,253.9L397.2,253.0L391.5,253.0L388.7,252.1L385.9,247.4L384.0,239.8Z"/>
<path id="p189" d="M418.8,231.4L427.3,231.4L434.8,232.3L439.5,231.4L440.5,236.1L437.6,237.0L440.5,242.6L443.3,249.2L445.2,254.9L419.8,254.9L418.8,254.9Z"/>
<path id="p190" d="M418.8,261.5L418.8,254.9L445.2,254.9L448.0,261.5L449.9,267.1L447.1,269.9L446.1,276.5L443.3,280.3L440.5,285.0L436.7,282.2L432.9,285.9L428.2,287.8L423.5,285.9L419.8,287.8L416.9,284.1L415.1,277.5L415.1,271.8L417.9,269.0Z"/>
<path id="p191" d="M397.2,253.0L402.8,253.9L415.1,261.5L418.8,261.5L417.9,269.0L415.1,271.8L415.1,277.5L416.9,284.1L410.4,287.8L404.7,290.6L400.0,292.5L398.1,287.8L396.2,280.3L395.3,272.8L397.2,265.2L399.1,259.6Z"/>
<path id="p192" d="M373.6,262.4L382.1,256.8L388.7,252.1L391.5,253.0L397.2,253.0L399.1,259.6L397.2,265.2L395.3,272.8L393.4,277.5L387.8,276.5L380.2,277.5L374.6,276.5L370.8,279.4L367.1,278.4L366.1,273.7L371.8,271.8L372.7,267.1Z"/>
<path id="p193" d="M349.2,245.5L357.6,251.1L367.1,257.7L373.6,262.4L372.7,267.1L371.8,271.8L366.1,273.7L360.5,273.7L356.7,277.5L352.9,281.2L349.2,285.0L346.4,280.3L342.6,278.4L338.8,276.5L338.8,272.4L350.1,271.8L350.1,252.1Z"/>
<path id="p194" d="M323.4,273.7L326.6,269.9L331.3,270.5L336.0,274.3L336.9,279.4L331.3,279.4L324.7,279.9L324.1,277.5Z"/>
<path id="p195" d="M324.7,280.3L330.4,279.9L330.4,282.6L326.6,283.1Z"/>
<path id="p196" d="M330.4,280.3L336.9,279.7L342.6,279.4L346.4,282.2L347.3,287.8L344.5,291.6L341.6,289.7L338.8,286.9L336.0,285.9L333.2,287.8L330.4,284.1Z"/>
<path id="p197" d="M333.2,287.8L336.0,285.9L338.8,287.8L338.8,291.6L336.0,293.5L333.6,291.2Z"/>
<path id="p198" d="M338.8,291.6L341.6,290.1L344.5,292.5L345.4,297.2L341.6,296.3L338.4,293.5Z"/>
<path id="p199" d="M344.5,291.6L347.3,287.8L349.2,285.0L355.8,285.9L356.7,291.6L355.8,299.1L350.1,299.1L345.4,300.1L345.4,297.2Z"/>
<path id="p200" d="M352.9,281.2L356.7,277.5L360.5,273.7L366.1,273.7L367.1,278.4L370.8,279.4L368.0,283.1L363.3,283.1L357.6,285.0L355.8,285.9L352.0,285.0Z"/>
<path id="p201" d="M356.7,285.0L363.3,283.7L364.2,289.7L366.1,297.2L361.4,299.1L356.1,299.1L356.7,291.6Z"/>
<path id="p202" d="M363.7,283.7L366.1,283.7L367.1,297.2L365.7,297.6L364.4,289.7Z"/>
<path id="p203" d="M366.1,283.7L368.6,282.6L370.8,279.9L372.7,284.1L370.4,289.7L369.9,296.9L367.4,297.2Z"/>
<path id="p204" d="M370.8,279.9L374.6,276.5L380.2,277.5L387.8,276.5L393.4,277.5L396.2,280.3L395.3,285.9L391.5,290.6L387.8,295.4L384.9,298.2L382.1,301.9L375.5,301.9L371.8,297.2L369.9,296.9L370.4,289.7L372.7,284.1Z"/>
<path id="p205" d="M396.2,280.3L398.1,287.8L395.3,290.6L397.2,295.4L400.0,301.0L402.8,305.7L399.1,307.6L393.4,306.6L385.9,306.6L384.0,302.9L382.1,301.9L384.9,298.2L387.8,295.4L391.5,290.6L395.3,285.9Z"/>
<path id="p206" d="M400.0,292.5L404.7,290.6L410.4,287.8L416.9,284.1L419.8,287.8L423.5,292.5L428.2,297.2L424.5,298.2L417.9,297.2L412.2,300.1L406.6,301.0L402.8,305.7L400.0,301.0L397.2,295.4Z"/>
<path id="p207" d="M385.9,306.6L389.6,306.6L389.6,308.9L385.9,308.9Z"/>
<path id="p208" d="M406.4,300.9L417.6,300.0L430.8,301.9L434.6,305.6L433.6,311.3L430.8,316.0L429.9,320.7L431.8,328.2L432.7,334.8L428.9,335.8L428.0,340.5L429.9,346.1L427.1,344.2L422.4,342.4L416.7,340.5L413.9,335.8L412.9,331.1L406.4,332.0L401.6,328.2L392.2,328.2L397.9,324.5L400.7,318.8L403.5,311.3L405.4,305.6Z"/>
<path id="p209" d="M434.6,316.0L440.2,314.7L444.0,316.0L448.7,319.8L454.4,324.5L452.5,331.1L454.4,336.7L455.3,340.5L449.6,342.4L443.1,343.3L439.3,338.6L434.6,336.7L432.7,334.8L431.8,328.2L429.9,320.7Z"/>
<path id="p210" d="M430.8,316.0L434.6,315.4L433.6,321.6L430.4,321.1Z"/>
<path id="p211" d="M392.2,328.2L401.6,328.2L406.4,332.0L412.9,331.1L413.9,335.8L416.7,340.5L417.6,346.1L413.9,347.1L412.9,356.5L416.7,358.4L410.1,359.3L400.7,358.4L390.4,357.4L389.8,352.7L392.2,344.2L394.1,336.7Z"/>
<path id="p212" d="M417.6,346.1L416.7,340.5L422.4,342.4L427.1,344.2L429.9,346.1L428.9,340.5L429.9,335.8L433.6,335.4L439.3,338.6L440.2,344.2L437.4,348.0L432.7,350.8L428.0,353.6L424.2,356.5L419.5,358.4L416.7,358.4L412.9,356.5L413.9,347.1Z"/>
<path id="p213" d="M443.1,343.3L449.6,342.4L455.3,340.5L456.2,348.9L453.4,354.6L447.8,359.3L443.1,364.0L442.1,369.6L443.1,375.3L440.2,379.1L436.5,378.1L438.4,372.5L437.4,366.8L438.4,360.2L436.5,354.6L432.7,351.8L437.4,348.0L440.6,348.9L442.1,355.5L444.0,353.6L443.1,347.1Z"/>
<path id="p214" d="M439.3,338.6L442.1,340.5L443.1,347.1L444.0,353.6L442.1,355.5L440.6,348.9L440.2,344.2Z"/>
<path id="p215" d="M424.2,356.5L428.0,353.6L432.7,351.2L436.5,354.6L438.4,360.2L436.5,366.8L431.8,369.6L427.1,367.8L422.4,363.1L420.5,359.3Z"/>
<path id="p216" d="M410.1,359.3L416.7,358.4L420.5,359.3L422.4,363.1L427.1,367.8L431.8,369.6L428.0,374.4L422.4,377.2L419.5,380.0L413.9,380.9L409.2,382.8L408.2,375.3L409.2,368.7Z"/>
<path id="p217" d="M390.4,357.4L400.7,358.4L410.1,359.3L409.2,368.7L408.2,375.3L409.2,382.8L407.3,387.5L401.6,388.5L398.8,382.8L395.1,373.4L392.2,364.9Z"/>
<path id="p218" d="M399.8,387.5L407.3,387.5L409.2,382.8L413.9,380.9L419.5,380.0L422.4,377.2L428.0,374.4L431.8,370.6L434.6,372.5L435.5,378.1L436.5,382.8L433.6,389.4L428.9,395.1L423.3,398.8L415.8,401.6L408.2,403.2L403.5,401.6L402.6,396.0L400.7,391.3Z"/>
<path id="p219" d="M423.3,389.4L426.1,387.5L428.6,390.0L425.7,392.6Z"/>
<path id="p220" d="M432.7,380.6L435.0,380.0L435.5,382.8L433.3,383.8Z"/>
<path id="p221" d="M475.1,344.2L476.9,345.2L478.3,352.7L476.0,360.2L473.2,368.7L469.4,377.2L464.7,379.1L460.9,376.2L460.9,369.6L463.8,362.1L464.7,356.5L469.4,352.7L473.2,348.0Z"/>
<path id="p222" d="M383.8,305.6L393.2,304.7L395.1,309.4L397.9,311.3L396.0,318.8L393.2,321.6L390.4,324.5L387.5,318.8L384.7,313.2Z"/>
<path id="p223" d="M395.1,309.4L398.8,306.6L403.5,303.8L406.4,300.9L405.4,305.6L403.5,311.3L400.7,318.8L397.9,324.5L392.2,328.2L390.4,324.5L393.2,321.6L396.0,318.8L397.9,311.3Z"/>
<path id="p224" d="M419.5,287.2L423.2,287.9L426.4,287.4L430.6,287.9L435.9,283.2L439.6,284.2L440.6,289.0L439.6,291.6L441.2,293.8L444.4,298.5L441.7,303.8L435.9,303.8L433.2,302.8L428.5,301.7L424.8,298.0L421.6,293.8L419.5,292.2Z"/>
<path id="p225" d="M441.7,286.4L443.8,281.1L446.5,275.8L450.7,274.7L454.9,276.3L458.6,279.5L460.2,283.2L462.4,287.4L466.6,290.6L472.4,292.7L467.6,296.9L462.4,300.6L457.1,302.2L452.8,303.3L448.6,301.7L444.4,298.5L441.2,293.8L439.6,291.6L440.6,289.0Z"/>
<path id="p226" d="M446.5,275.8L445.9,271.0L449.6,266.8L452.3,271.0L456.0,274.7L460.2,278.9L461.8,281.1L460.2,283.2L458.6,279.5L454.9,276.3L450.7,274.7Z"/>
<path id="p227" d="M459.2,281.6L461.8,280.8L462.4,283.2L460.8,284.4L459.4,283.7Z"/>
<path id="p228" d="M462.4,287.4L462.4,284.2L466.6,284.8L472.9,283.2L480.4,281.6L479.8,285.3L477.2,292.7L472.9,300.1L467.6,306.5L462.4,312.3L458.3,316.2L457.9,308.6L458.1,304.4L462.4,300.6L467.6,296.9L472.4,292.7L466.6,290.6Z"/>
<path id="p229" d="M441.7,303.8L444.4,298.5L448.6,301.7L452.8,303.3L457.1,302.2L458.1,304.4L457.9,308.6L458.3,316.2L456.0,321.3L453.9,324.5L450.2,321.8L444.9,317.6L441.2,314.9L442.8,310.7L442.2,306.5Z"/>
<path id="p230" d="M433.2,306.5L435.9,303.8L441.7,303.8L442.2,306.5L442.8,310.7L441.2,314.9L437.5,314.9L432.7,315.5L432.2,311.8Z"/>
<path id="p231" d="M460.5,196.0L463.2,192.3L467.4,190.7L471.6,191.2L472.2,193.9L469.5,194.9L467.4,196.5L470.1,200.8L473.8,202.9L476.9,202.9L478.5,205.5L475.9,206.6L475.9,209.8L478.5,212.4L479.1,215.6L475.9,216.6L471.6,215.6L469.0,211.9L467.9,207.6L465.3,203.4L462.6,199.7Z"/>
</defs>
<g id="map" stroke-linejoin="round">
<use href="#p0" fill="#e31a1c" stroke="#e31a1c" stroke-width="0.7"/>
<use href="#p1" fill="#b10026" stroke="#b10026" stroke-width="0.7"/>
<use href="#p2" fill="#fd8d3c" stroke="#fd8d3c" stroke-width="0.7"/>
<use href="#p3" fill="#fd8d3c" stroke="#fd8d3c" stroke-width="0.7"/>
<use href="#p4" fill="#b10026" stroke="#b10026" stroke-width="0.7"/>
<use href="#p5" fill="#feb24c" stroke="#feb24c" stroke-width="0.7"/>
<use href="#p6" fill="url(#hatch)" stroke="#f2f2f2" stroke-width="0.5"/>
<use href="#p7" fill="#ffffcc" stroke="#ffffcc" stroke-width="0.7"/>
<use href="#p8" fill="#b10026" stroke="#b10026" stroke-width="0.7"/>
<use href="#p9" fill="#b10026" stroke="#b10026" stroke-width="0.7"/>
<use href="#p10" fill="#e31a1c" stroke="#e31a1c" stroke-width="0.7"/>
<use href="#p11" fill="#e31a1c" stroke="#e31a1c" stroke-width="0.7"/>
<use href="#p12" fill="#e31a1c" stroke="#e31a1c" stroke-width="0.7"/>
<use href="#p13" fill="#e31a1c" stroke="#e31a1c" stroke-width="0.7"/>
<use href="#p14" fill="#e31a1c" stroke="#e31a1c" stroke-width="0.7"/>
<use href="#p15" fill="#e31a1c" stroke="#e31a1c" stroke-width="0.7"/>
<use href="#p16" fill="#e31a1c" stroke="#e31a1c" stroke-width="0.7"/>
<use href="#p17" fill="#e31a1c" stroke="#e31a1c" stroke-width="0.7"/>
<use href="#p18" fill="#e31a1c" stroke="#e31a1c" stroke-width="0.7"/>
<use href="#p19" fill="#e31a1c" stroke="#e31a1c" stroke-width="0.7"/>
<use href="#p20" fill="#e31a1c" stroke="#e31a1c" stroke-width="0.7"/>
<use href="#p21" fill="#e31a1c" stroke="#e31a1c" stroke-width="0.7"/>
<use href="#p22" fill="#e31a1c" stroke="#e31a1c" stroke-width="0.7"/>
<use href="#p23" fill="#e31a1c" stroke="#e31a1c" stroke-width="0.7"/>
<use href="#p24" fill="#e31a1c" stroke="#e31a1c" stroke-width="0.7"/>
<use href="#p25" fill="#e31a1c" stroke="#e31a1c" stroke-width="0.7"/>
<use href="#p26" fill="#e31a1c" stroke="#e31a1c" stroke-width="0.7"/>
<use href="#p27" fill="#e31a1c" stroke="#e31a1c" stroke-width="0.7"/>
<use href="#p28" fill="#e31a1c" stroke="#e31a1c" stroke-width="0.7"/>
<use href="#p29" fill="#fed976" stroke="#fed976" stroke-width="0.7"/>
<use href="#p30" fill="#ffffcc" stroke="#ffffcc" stroke-width="0.7"/>
<use href="#p31" fill="#feb24c" stroke="#feb24c" stroke-width="0.7"/>
<use href="#p32" fill="#feb24c" stroke="#feb24c" stroke-width="0.7"/>
<use href="#p33" fill="#ffeda0" stroke="#ffeda0" stroke-width="0.7"/>
<use href="#p34" fill="url(#hatch)" stroke="#f2f2f2" stroke-width="0.5"/>
<use href="#p35" fill="url(#hatch)" stroke="#f2f2f2" stroke-width="0.5"/>
<use href="#p36" fill="#feb24c" stroke="#feb24c" stroke-width="0.7"/>
<use href="#p37" fill="#fd8d3c" stroke="#fd8d3c" stroke-width="0.7"/>
<use href="#p38" fill="#ffffcc" stroke="#ffffcc" stroke-width="0.7"/>
<use href="#p39" fill="#ffffcc" stroke="#ffffcc" stroke-width="0.7"/>
<use href="#p40" fill="#ffffcc" stroke="#ffffcc" stroke-width="0.7"/>
<use href="#p41" fill="url(#hatch)" stroke="#f2f2f2" stroke-width="0.5"/>
<use href="#p42" fill="#ffeda0" stroke="#ffeda0" stroke-width="0.7"/>
<use href="#p43" fill="#fd8d3c" stroke="#fd8d3c" stroke-width="0.7"/>
<use href="#p44" fill="#b10026" stroke="#b10026" stroke-width="0.7"/>
<use href="#p45" fill="#fed976" stroke="#fed976" stroke-width="0.7"/>
<use href="#p46" fill="#ffffcc" stroke="#ffffcc" stroke-width="0.7"/>
<use href="#p47" fill="#fc4e2a" stroke="#fc4e2a" stroke-width="0.7"/>
<use href="#p48" fill="#fc4e2a" stroke="#fc4e2a" stroke-width="0.7"/>
<use href="#p49" fill="#e31a1c" stroke="#e31a1c" stroke-width="0.7"/>
<use href="#p50" fill="#fd8d3c" stroke="#fd8d3c" stroke-width="0.7"/>
<use href="#p51" fill="#fed976" stroke="#fed976" stroke-width="0.7"/>
<use href="#p52" fill="#feb24c" stroke="#feb24c" stroke-width="0.7"/>
<use href="#p53" fill="#feb24c" stroke="#feb24c" stroke-width="0.7"/>
<use href="#p54" fill="#fd8d3c" stroke="#fd8d3c" stroke-width="0.7"/>
<use href="#p55" fill="#fd8d3c" stroke="#fd8d3c" stroke-width="0.7"/>
<use href="#p56" fill="#fed976" stroke="#fed976" stroke-width="0.7"/>
<use href="#p57" fill="#fd8d3c" stroke="#fd8d3c" stroke-width="0.7"/>
<use href="#p58" fill="#fd8d3c" stroke="#fd8d3c" stroke-width="0.7"/>
<use href="#p60" fill="#b10026" stroke="#b10026" stroke-width="0.7"/>
<use href="#p61" fill="#b10026" stroke="#b10026" stroke-width="0.7"/>
<use href="#p62" fill="#b10026" stroke="#b10026" stroke-width="0.7"/>
<use href="#p63" fill="#b10026" stroke="#b10026" stroke-width="0.7"/>
<use href="#p64" fill="url(#hatch)" stroke="#f2f2f2" stroke-width="0.5"/>
<use href="#p65" fill="#e31a1c" stroke="#e31a1c" stroke-width="0.7"/>
<use href="#p66" fill="#fd8d3c" stroke="#fd8d3c" stroke-width="0.7"/>
<use href="#p67" fill="#fd8d3c" stroke="#fd8d3c" stroke-width="0.7"/>
<use href="#p68" fill="#fd8d3c" stroke="#fd8d3c" stroke-width="0.7"/>
<use href="#p69" fill="#fc4e2a" stroke="#fc4e2a" stroke-width="0.7"/>
<use href="#p70" fill="#b10026" stroke="#b10026" stroke-width="0.7"/>
<use href="#p71" fill="#b10026" stroke="#b10026" stroke-width="0.7"/>
<use href="#p72" fill="#e31a1c" stroke="#e31a1c" stroke-width="0.7"/>
<use href="#p73" fill="#e31a1c" stroke="#e31a1c" stroke-width="0.7"/>
<use href="#p74" fill="#b10026" stroke="#b10026" stroke-width="0.7"/>
<use href="#p75" fill="#fc4e2a" stroke="#fc4e2a" stroke-width="0.7"/>
<use href="#p76" fill="#fc4e2a" stroke="#fc4e2a" stroke-width="0.7"/>
<use href="#p77" fill="#e31a1c" stroke="#e31a1c" stroke-width="0.7"/>
<use href="#p78" fill="#b10026" stroke="#b10026" stroke-width="0.7"/>
<use href="#p79" fill="#fc4e2a" stroke="#fc4e2a" stroke-width="0.7"/>
<use href="#p80" fill="#fc4e2a" stroke="#fc4e2a" stroke-width="0.7"/>
<use href="#p81" fill="#fc4e2a" stroke="#fc4e2a" stroke-width="0.7"/>
<use href="#p82" fill="#fd8d3c" stroke="#fd8d3c" stroke-width="0.7"/>
<use href="#p83" fill="#fc4e2a" stroke="#fc4e2a" stroke-width="0.7"/>
<use href="#p84" fill="#feb24c" stroke="#feb24c" stroke-width="0.7"/>
<use href="#p85" fill="#feb24c" stroke="#feb24c" stroke-width="0.7"/>
<use href="#p86" fill="#fed976" stroke="#fed976" stroke-width="0.7"/>
<use href="#p87" fill="#feb24c" stroke="#feb24c" stroke-width="0.7"/>
<use href="#p88" fill="#ffeda0" stroke="#ffeda0" stroke-width="0.7"/>
<use href="#p89" fill="#ffffcc" stroke="#ffffcc" stroke-width="0.7"/>
<use href="#p90" fill="#fed976" stroke="#fed976" stroke-width="0.7"/>
<use href="#p91" fill="#fed976" stroke="#fed976" stroke-width="0.7"/>
<use href="#p92" fill="#fc4e2a" stroke="#fc4e2a" stroke-width="0.7"/>
<use href="#p93" fill="#fc4e2a" stroke="#fc4e2a" stroke-width="0.7"/>
<use href="#p94" fill="#fd8d3c" stroke="#fd8d3c" stroke-width="0.7"/>
<use href="#p95" fill="#fc4e2a" stroke="#fc4e2a" stroke-width="0.7"/>
<use href="#p96" fill="#e31a1c" stroke="#e31a1c" stroke-width="0.7"/>
<use href="#p97" fill="#e31a1c" stroke="#e31a1c" stroke-width="0.7"/>
<use href="#p98" fill="#e31a1c" stroke="#e31a1c" stroke-width="0.7"/>
<use href="#p99" fill="#e31a1c" stroke="#e31a1c" stroke-width="0.7"/>
<use href="#p100" fill="#fc4e2a" stroke="#fc4e2a" stroke-width="0.7"/>
<use href="#p101" fill="#fc4e2a" stroke="#fc4e2a" stroke-width="0.7"/>
<use href="#p102" fill="#fd8d3c" stroke="#fd8d3c" stroke-width="0.7"/>
<use href="#p103" fill="#fc4e2a" stroke="#fc4e2a" stroke-width="0.7"/>
<use href="#p104" fill="#e31a1c" stroke="#e31a1c" stroke-width="0.7"/>
<use href="#p105" fill="#fc4e2a" stroke="#fc4e2a" stroke-width="0.7"/>
<use href="#p106" fill="url(#hatch)" stroke="#f2f2f2" stroke-width="0.5"/>
<use href="#p107" fill="#fed976" stroke="#fed976" stroke-width="0.7"/>
<use href="#p108" fill="#feb24c" stroke="#feb24c" stroke-width="0.7"/>
<use href="#p109" fill="#feb24c" stroke="#feb24c" stroke-width="0.7"/>
<use href="#p110" fill="#fd8d3c" stroke="#fd8d3c" stroke-width="0.7"/>
<use href="#p111" fill="#fd8d3c" stroke="#fd8d3c" stroke-width="0.7"/>
<use href="#p112" fill="#fed976" stroke="#fed976" stroke-width="0.7"/>
<use href="#p113" fill="#e31a1c" stroke="#e31a1c" stroke-width="0.7"/>
<use href="#p114" fill="#fed976" stroke="#fed976" stroke-width="0.7"/>
<use href="#p115" fill="#fd8d3c" stroke="#fd8d3c" stroke-width="0.7"/>
<use href="#p116" fill="#b10026" stroke="#b10026" stroke-width="0.7"/>
<use href="#p117" fill="#feb24c" stroke="#feb24c" stroke-width="0.7"/>
<use href="#p118" fill="#feb24c" stroke="#feb24c" stroke-width="0.7"/>
<use href="#p119" fill="#feb24c" stroke="#feb24c" stroke-width="0.7"/>
<use href="#p120" fill="#feb24c" stroke="#feb24c" stroke-width="0.7"/>
<use href="#p121" fill="#feb24c" stroke="#feb24c" stroke-width="0.7"/>
<use href="#p122" fill="#fd8d3c" stroke="#fd8d3c" stroke-width="0.7"/>
<use href="#p123" fill="#feb24c" stroke="#feb24c" stroke-width="0.7"/>
<use href="#p124" fill="#feb24c" stroke="#feb24c" stroke-width="0.7"/>
<use href="#p125" fill="#feb24c" stroke="#feb24c" stroke-width="0.7"/>
<use href="#p126" fill="#feb24c" stroke="#feb24c" stroke-width="0.7"/>
<use href="#p127" fill="#feb24c" stroke="#feb24c" stroke-width="0.7"/>
<use href="#p128" fill="#ffffcc" stroke="#ffffcc" stroke-width="0.7"/>
<use href="#p129" fill="#e31a1c" stroke="#e31a1c" stroke-width="0.7"/>
<use href="#p130" fill="#e31a1c" stroke="#e31a1c" stroke-width="0.7"/>
<use href="#p131" fill="#fd8d3c" stroke="#fd8d3c" stroke-width="0.7"/>
<use href="#p132" fill="#fd8d3c" stroke="#fd8d3c" stroke-width="0.7"/>
<use href="#p133" fill="#fd8d3c" stroke="#fd8d3c" stroke-width="0.7"/>
<use href="#p134" fill="#ffeda0" stroke="#ffeda0" stroke-width="0.7"/>
<use href="#p135" fill="#fd8d3c" stroke="#fd8d3c" stroke-width="0.7"/>
<use href="#p136" fill="#ffffcc" stroke="#ffffcc" stroke-width="0.7"/>
<use href="#p137" fill="#e31a1c" stroke="#e31a1c" stroke-width="0.7"/>
<use href="#p138" fill="#feb24c" stroke="#feb24c" stroke-width="0.7"/>
<use href="#p139" fill="#b10026" stroke="#b10026" stroke-width="0.7"/>
<use href="#p140" fill="#fc4e2a" stroke="#fc4e2a" stroke-width="0.7"/>
<use href="#p141" fill="#fd8d3c" stroke="#fd8d3c" stroke-width="0.7"/>
<use href="#p142" fill="#fd8d3c" stroke="#fd8d3c" stroke-width="0.7"/>
<use href="#p143" fill="#fd8d3c" stroke="#fd8d3c" stroke-width="0.7"/>
<use href="#p144" fill="#fd8d3c" stroke="#fd8d3c" stroke-width="0.7"/>
<use href="#p145" fill="#fd8d3c" stroke="#fd8d3c" stroke-width="0.7"/>
<use href="#p146" fill="#b10026" stroke="#b10026" stroke-width="0.7"/>
<use href="#p147" fill="url(#hatch)" stroke="#f2f2f2" stroke-width="0.5"/>
<use href="#p148" fill="#ffffcc" stroke="#ffffcc" stroke-width="0.7"/>
<use href="#p149" fill="#feb24c" stroke="#feb24c" stroke-width="0.7"/>
<use href="#p150" fill="#feb24c" stroke="#feb24c" stroke-width="0.7"/>
<use href="#p151" fill="#ffffcc" stroke="#ffffcc" stroke-width="0.7"/>
<use href="#p152" fill="#ffffcc" stroke="#ffffcc" stroke-width="0.7"/>
<use href="#p153" fill="#ffffcc" stroke="#ffffcc" stroke-width="0.7"/>
<use href="#p154" fill="#ffffcc" stroke="#ffffcc" stroke-width="0.7"/>
<use href="#p155" fill="#ffffcc" stroke="#ffffcc" stroke-width="0.7"/>
<use href="#p156" fill="#ffffcc" stroke="#ffffcc" stroke-width="0.7"/>
<use href="#p157" fill="#ffffcc" stroke="#ffffcc" stroke-width="0.7"/>
<use href="#p158" fill="#ffffcc" stroke="#ffffcc" stroke-width="0.7"/>
<use href="#p159" fill="url(#hatch)" stroke="#f2f2f2" stroke-width="0.5"/>
<use href="#p160" fill="#e31a1c" stroke="#e31a1c" stroke-width="0.7"/>
<use href="#p161" fill="#feb24c" stroke="#feb24c" stroke-width="0.7"/>
<use href="#p162" fill="#fd8d3c" stroke="#fd8d3c" stroke-width="0.7"/>
<use href="#p163" fill="#feb24c" stroke="#feb24c" stroke-width="0.7"/>
<use href="#p164" fill="#fc4e2a" stroke="#fc4e2a" stroke-width="0.7"/>
<use href="#p165" fill="#feb24c" stroke="#feb24c" stroke-width="0.7"/>
<use href="#p166" fill="#fed976" stroke="#fed976" stroke-width="0.7"/>
<use href="#p167" fill="#feb24c" stroke="#feb24c" stroke-width="0.7"/>
<use href="#p168" fill="#ffffcc" stroke="#ffffcc" stroke-width="0.7"/>
<use href="#p169" fill="#fed976" stroke="#fed976" stroke-width="0.7"/>
<use href="#p170" fill="#fed976" stroke="#fed976" stroke-width="0.7"/>
<use href="#p171" fill="#fed976" stroke="#fed976" stroke-width="0.7"/>
<use href="#p172" fill="url(#hatch)" stroke="#f2f2f2" stroke-width="0.5"/>
<use href="#p173" fill="url(#hatch)" stroke="#f2f2f2" stroke-width="0.5"/>
<use href="#p174" fill="#fd8d3c" stroke="#fd8d3c" stroke-width="0.7"/>
<use href="#p175" fill="#feb24c" stroke="#feb24c" stroke-width="0.7"/>
<use href="#p176" fill="#feb24c" stroke="#feb24c" stroke-width="0.7"/>
<use href="#p177" fill="#fc4e2a" stroke="#fc4e2a" stroke-width="0.7"/>
<use href="#p178" fill="#fed976" stroke="#fed976" stroke-width="0.7"/>
<use href="#p179" fill="#ffffcc" stroke="#ffffcc" stroke-width="0.7"/>
<use href="#p180" fill="#ffffcc" stroke="#ffffcc" stroke-width="0.7"/>
<use href="#p181" fill="#ffffcc" stroke="#ffffcc" stroke-width="0.7"/>
<use href="#p182" fill="#ffffcc" stroke="#ffffcc" stroke-width="0.7"/>
<use href="#p183" fill="#fc4e2a" stroke="#fc4e2a" stroke-width="0.7"/>
<use href="#p184" fill="url(#hatch)" stroke="#f2f2f2" stroke-width="0.5"/>
<use href="#p185" fill="url(#hatch)" stroke="#f2f2f2" stroke-width="0.5"/>
<use href="#p186" fill="#fed976" stroke="#fed976" stroke-width="0.7"/>
<use href="#p187" fill="#fed976" stroke="#fed976" stroke-width="0.7"/>
<use href="#p188" fill="#ffffcc" stroke="#ffffcc" stroke-width="0.7"/>
<use href="#p189" fill="#fc4e2a" stroke="#fc4e2a" stroke-width="0.7"/>
<use href="#p190" fill="#ffeda0" stroke="#ffeda0" stroke-width="0.7"/>
<use href="#p191" fill="url(#hatch)" stroke="#f2f2f2" stroke-width="0.5"/>
<use href="#p192" fill="#ffffcc" stroke="#ffffcc" stroke-width="0.7"/>
<use href="#p193" fill="#ffeda0" stroke="#ffeda0" stroke-width="0.7"/>
<use href="#p194" fill="#feb24c" stroke="#feb24c" stroke-width="0.7"/>
<use href="#p195" fill="#ffffcc" stroke="#ffffcc" stroke-width="0.7"/>
<use href="#p196" fill="#ffffcc" stroke="#ffffcc" stroke-width="0.7"/>
<use href="#p197" fill="#ffffcc" stroke="#ffffcc" stroke-width="0.7"/>
<use href="#p198" fill="#ffffcc" stroke="#ffffcc" stroke-width="0.7"/>
<use href="#p199" fill="#ffffcc" stroke="#ffffcc" stroke-width="0.7"/>
<use href="#p200" fill="#ffffcc" stroke="#ffffcc" stroke-width="0.7"/>
<use href="#p201" fill="#ffeda0" stroke="#ffeda0" stroke-width="0.7"/>
<use href="#p202" fill="#ffeda0" stroke="#ffeda0" stroke-width="0.7"/>
<use href="#p203" fill="#ffffcc" stroke="#ffffcc" stroke-width="0.7"/>
<use href="#p204" fill="#ffffcc" stroke="#ffffcc" stroke-width="0.7"/>
<use href="#p205" fill="#ffffcc" stroke="#ffffcc" stroke-width="0.7"/>
<use href="#p206" fill="url(#hatch)" stroke="#f2f2f2" stroke-width="0.5"/>
<use href="#p207" fill="#ffffcc" stroke="#ffffcc" stroke-width="0.7"/>
<use href="#p208" fill="#feb24c" stroke="#feb24c" stroke-width="0.7"/>
<use href="#p209" fill="#ffffcc" stroke="#ffffcc" stroke-width="0.7"/>
<use href="#p210" fill="#ffffcc" stroke="#ffffcc" stroke-width="0.7"/>
<use href="#p211" fill="#fed976" stroke="#fed976" stroke-width="0.7"/>
<use href="#p212" fill="#ffeda0" stroke="#ffeda0" stroke-width="0.7"/>
<use href="#p213" fill="#ffffcc" stroke="#ffffcc" stroke-width="0.7"/>
<use href="#p214" fill="url(#hatch)" stroke="#f2f2f2" stroke-width="0.5"/>
<use href="#p215" fill="#ffffcc" stroke="#ffffcc" stroke-width="0.7"/>
<use href="#p216" fill="#ffffcc" stroke="#ffffcc" stroke-width="0.7"/>
<use href="#p217" fill="#fed976" stroke="#fed976" stroke-width="0.7"/>
<use href="#p218" fill="#e31a1c" stroke="#e31a1c" stroke-width="0.7"/>
<use href="#p219" fill="url(#hatch)" stroke="#f2f2f2" stroke-width="0.5"/>
<use href="#p220" fill="#ffffcc" stroke="#ffffcc" stroke-width="0.7"/>
<use href="#p221" fill="url(#hatch)" stroke="#f2f2f2" stroke-width="0.5"/>
<use href="#p222" fill="#ffffcc" stroke="#ffffcc" stroke-width="0.7"/>
<use href="#p223" fill="#ffffcc" stroke="#ffffcc" stroke-width="0.7"/>
<use href="#p224" fill="#ffffcc" stroke="#ffffcc" stroke-width="0.7"/>
<use href="#p225" fill="#fed976" stroke="#fed976" stroke-width="0.7"/>
<use href="#p226" fill="#ffffcc" stroke="#ffffcc" stroke-width="0.7"/>
<use href="#p227" fill="#ffffcc" stroke="#ffffcc" stroke-width="0.7"/>
<use href="#p228" fill="#ffffcc" stroke="#ffffcc" stroke-width="0.7"/>
<use href="#p229" fill="#feb24c" stroke="#feb24c" stroke-width="0.7"/>
<use href="#p230" fill="url(#hatch)" stroke="#f2f2f2" stroke-width="0.5"/>
<use href="#p231" fill="#ffffff" stroke="#ffffff" stroke-width="0.7"/>
</g>
<g id="borders" fill="none" stroke="#4a4a4a" stroke-opacity="0.45" stroke-width="0.4" stroke-linejoin="round">
<use href="#p0"/><use href="#p1"/><use href="#p2"/><use href="#p3"/><use href="#p4"/><use href="#p5"/><use href="#p6"/><use href="#p7"/><use href="#p8"/><use href="#p9"/><use href="#p10"/><use href="#p11"/><use href="#p12"/><use href="#p13"/><use href="#p14"/><use href="#p15"/><use href="#p16"/><use href="#p17"/><use href="#p18"/><use href="#p19"/><use href="#p20"/><use href="#p21"/><use href="#p22"/><use href="#p23"/><use href="#p24"/><use href="#p25"/><use href="#p26"/><use href="#p27"/><use href="#p28"/><use href="#p29"/><use href="#p30"/><use href="#p31"/><use href="#p32"/><use href="#p33"/><use href="#p34"/><use href="#p35"/><use href="#p36"/><use href="#p37"/><use href="#p38"/><use href="#p39"/><use href="#p40"/><use href="#p41"/><use href="#p42"/><use href="#p43"/><use href="#p44"/><use href="#p45"/><use href="#p46"/><use href="#p47"/><use href="#p48"/><use href="#p49"/><use href="#p50"/><use href="#p51"/><use href="#p52"/><use href="#p53"/><use href="#p54"/><use href="#p55"/><use href="#p56"/><use href="#p57"/><use href="#p58"/><use href="#p59"/><use href="#p60"/><use href="#p61"/><use href="#p62"/><use href="#p63"/><use href="#p64"/><use href="#p65"/><use href="#p66"/><use href="#p67"/><use href="#p68"/><use href="#p69"/><use href="#p70"/><use href="#p71"/><use href="#p72"/><use href="#p73"/><use href="#p74"/><use href="#p75"/><use href="#p76"/><use href="#p77"/><use href="#p78"/><use href="#p79"/><use href="#p80"/><use href="#p81"/><use href="#p82"/><use href="#p83"/><use href="#p84"/><use href="#p85"/><use href="#p86"/><use href="#p87"/><use href="#p88"/><use href="#p89"/><use href="#p90"/><use href="#p91"/><use href="#p92"/><use href="#p93"/><use href="#p94"/><use href="#p95"/><use href="#p96"/><use href="#p97"/><use href="#p98"/><use href="#p99"/><use href="#p100"/><use href="#p101"/><use href="#p102"/><use href="#p103"/><use href="#p104"/><use href="#p105"/><use href="#p106"/><use href="#p107"/><use href="#p108"/><use href="#p109"/><use href="#p110"/><use href="#p111"/><use href="#p112"/><use href="#p113"/><use href="#p114"/><use href="#p115"/><use href="#p116"/><use href="#p117"/><use href="#p118"/><use href="#p119"/><use href="#p120"/><use href="#p121"/><use href="#p122"/><use href="#p123"/><use href="#p124"/><use href="#p125"/><use href="#p126"/><use href="#p127"/><use href="#p128"/><use href="#p129"/><use href="#p130"/><use href="#p131"/><use href="#p132"/><use href="#p133"/><use href="#p134"/><use href="#p135"/><use href="#p136"/><use href="#p137"/><use href="#p138"/><use href="#p139"/><use href="#p140"/><use href="#p141"/><use href="#p142"/><use href="#p143"/><use href="#p144"/><use href="#p145"/><use href="#p146"/><use href="#p147"/><use href="#p148"/><use href="#p149"/><use href="#p150"/><use href="#p151"/><use href="#p152"/><use href="#p153"/><use href="#p154"/><use href="#p155"/><use href="#p156"/><use href="#p157"/><use href="#p158"/><use href="#p159"/><use href="#p160"/><use href="#p161"/><use href="#p162"/><use href="#p163"/><use href="#p164"/><use href="#p165"/><use href="#p166"/><use href="#p167"/><use href="#p168"/><use href="#p169"/><use href="#p170"/><use href="#p171"/><use href="#p172"/><use href="#p173"/><use href="#p174"/><use href="#p175"/><use href="#p176"/><use href="#p177"/><use href="#p178"/><use href="#p179"/><use href="#p180"/><use href="#p181"/><use href="#p182"/><use href="#p183"/><use href="#p184"/><use href="#p185"/><use href="#p186"/><use href="#p187"/><use href="#p188"/><use href="#p189"/><use href="#p190"/><use href="#p191"/><use href="#p192"/><use href="#p193"/><use href="#p194"/><use href="#p195"/><use href="#p196"/><use href="#p197"/><use href="#p198"/><use href="#p199"/><use href="#p200"/><use href="#p201"/><use href="#p202"/><use href="#p203"/><use href="#p204"/><use href="#p205"/><use href="#p206"/><use href="#p207"/><use href="#p208"/><use href="#p209"/><use href="#p210"/><use href="#p211"/><use href="#p212"/><use href="#p213"/><use href="#p214"/><use href="#p215"/><use href="#p216"/><use href="#p217"/><use href="#p218"/><use href="#p219"/><use href="#p220"/><use href="#p221"/><use href="#p222"/><use href="#p223"/><use href="#p224"/><use href="#p225"/><use href="#p226"/><use href="#p227"/><use href="#p228"/><use href="#p229"/><use href="#p230"/><use href="#p231"/>
</g>
<g id="legend">
<text x="164.5" y="530" text-anchor="middle" font-size="13.4" fill="#5b5b5b">No data</text>
<line x1="164.5" y1="533" x2="164.5" y2="537.5" stroke="#bbb" stroke-width="1"/>
<rect x="140.5" y="537.3" width="48" height="11" fill="url(#hatchL)" stroke="#c8c8c8" stroke-width="1"/>
<rect x="208.00" y="537.3" width="62.65" height="11" fill="#ffffcc" stroke="#c9c9c9" stroke-width="0.7"/>
<line x1="208.00" y1="520" x2="208.00" y2="548.3" stroke="#999" stroke-width="0.8"/>
<text x="208.00" y="515" text-anchor="middle" font-size="13.8" fill="#5b5b5b">0 TWh</text>
<rect x="270.65" y="537.3" width="62.65" height="11" fill="#ffeda0" stroke="#c9c9c9" stroke-width="0.7"/>
<line x1="270.65" y1="534" x2="270.65" y2="548.3" stroke="#999" stroke-width="0.8"/>
<text x="270.65" y="530" text-anchor="middle" font-size="13.8" fill="#5b5b5b">0.1 TWh</text>
<rect x="333.30" y="537.3" width="62.65" height="11" fill="#fed976" stroke="#c9c9c9" stroke-width="0.7"/>
<line x1="333.30" y1="520" x2="333.30" y2="548.3" stroke="#999" stroke-width="0.8"/>
<text x="333.30" y="515" text-anchor="middle" font-size="13.8" fill="#5b5b5b">0.3 TWh</text>
<rect x="395.95" y="537.3" width="62.65" height="11" fill="#feb24c" stroke="#c9c9c9" stroke-width="0.7"/>
<line x1="395.95" y1="534" x2="395.95" y2="548.3" stroke="#999" stroke-width="0.8"/>
<text x="395.95" y="530" text-anchor="middle" font-size="13.8" fill="#5b5b5b">1 TWh</text>
<rect x="458.60" y="537.3" width="62.65" height="11" fill="#fd8d3c" stroke="#c9c9c9" stroke-width="0.7"/>
<line x1="458.60" y1="520" x2="458.60" y2="548.3" stroke="#999" stroke-width="0.8"/>
<text x="458.60" y="515" text-anchor="middle" font-size="13.8" fill="#5b5b5b">3 TWh</text>
<rect x="521.25" y="537.3" width="62.65" height="11" fill="#fc4e2a" stroke="#c9c9c9" stroke-width="0.7"/>
<line x1="521.25" y1="534" x2="521.25" y2="548.3" stroke="#999" stroke-width="0.8"/>
<text x="521.25" y="530" text-anchor="middle" font-size="13.8" fill="#5b5b5b">10 TWh</text>
<rect x="583.90" y="537.3" width="62.65" height="11" fill="#e31a1c" stroke="#c9c9c9" stroke-width="0.7"/>
<line x1="583.90" y1="520" x2="583.90" y2="548.3" stroke="#999" stroke-width="0.8"/>
<text x="583.90" y="515" text-anchor="middle" font-size="13.8" fill="#5b5b5b">30 TWh</text>
<path d="M646.55,537.3h57.65l5,5.5l-5,5.5h-57.65z" fill="#b10026" stroke="#c9c9c9" stroke-width="0.7"/>
<line x1="646.55" y1="534" x2="646.55" y2="548.3" stroke="#999" stroke-width="0.8"/>
<text x="646.55" y="530" text-anchor="middle" font-size="13.8" fill="#5b5b5b">100 TWh</text>
</g>
</svg>
<div class="footer-l"><b>Data source:</b> Ember (2026); Energy Institute - Statistical Review of World Energy (2025)</div>
<div class="footer-r">OurWorldinData.org/renewable-energy | CC BY</div>
</body>
</html>
